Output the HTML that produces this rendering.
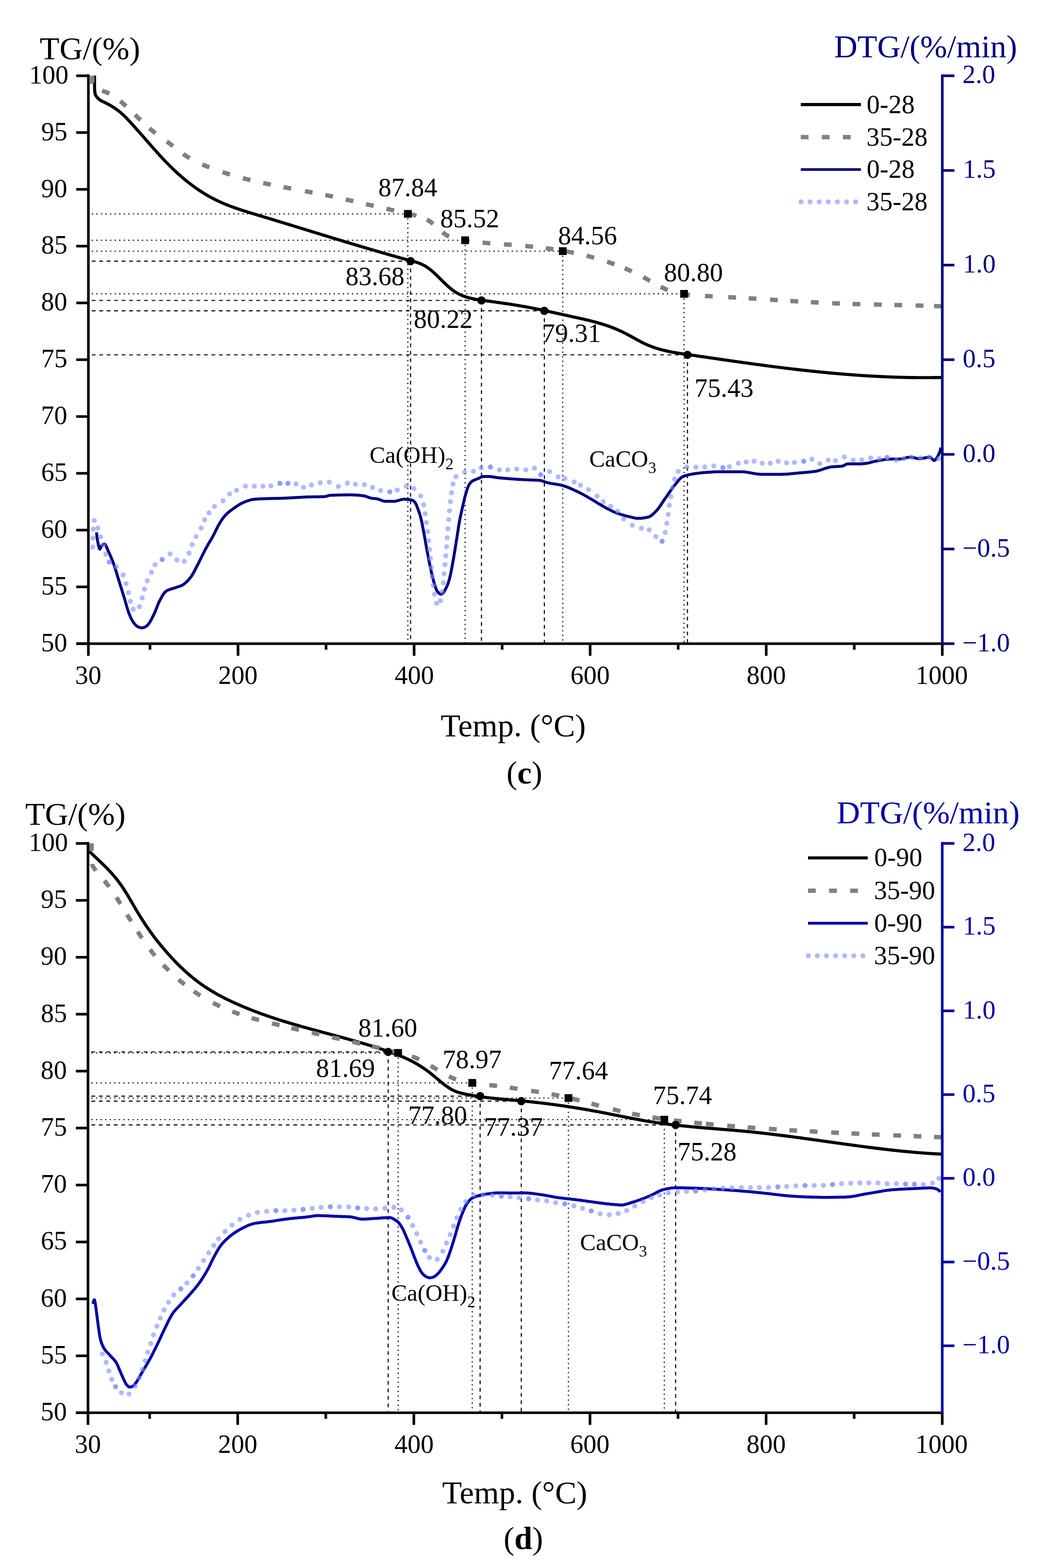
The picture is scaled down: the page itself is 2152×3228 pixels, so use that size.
<!DOCTYPE html>
<html><head><meta charset="utf-8"><title>TG/DTG</title>
<style>
html,body{margin:0;padding:0;background:#fff;}
svg{display:block;}
text{font-family:"Liberation Serif","Times New Roman",serif;}
</style></head><body>
<svg width="2152" height="3228" viewBox="0 0 2152 3228">
<rect width="2152" height="3228" fill="#fff"/>
<path d="M189,440.3 H839.9 M839.9,440.3 V1323.1" stroke="#000" stroke-width="2.2" fill="none" stroke-dasharray="2.6 6.8"/>
<path d="M189,494.6 H957.8 M957.8,494.6 V1323.1" stroke="#000" stroke-width="2.2" fill="none" stroke-dasharray="2.6 6.8"/>
<path d="M189,517 H1158.9 M1158.9,517 V1323.1" stroke="#000" stroke-width="2.2" fill="none" stroke-dasharray="2.6 6.8"/>
<path d="M189,604.9 H1408.7 M1408.7,604.9 V1323.1" stroke="#000" stroke-width="2.2" fill="none" stroke-dasharray="2.6 6.8"/>
<path d="M189,537.6 H845.5 M845.5,537.6 V1323.1" stroke="#000" stroke-width="2.2" fill="none" stroke-dasharray="7.8 7.6"/>
<path d="M189,618.5 H991.5 M991.5,618.5 V1323.1" stroke="#000" stroke-width="2.2" fill="none" stroke-dasharray="7.8 7.6"/>
<path d="M189,639.8 H1121 M1121,639.8 V1323.1" stroke="#000" stroke-width="2.2" fill="none" stroke-dasharray="7.8 7.6"/>
<path d="M189,730.5 H1415.7 M1415.7,730.5 V1323.1" stroke="#000" stroke-width="2.2" fill="none" stroke-dasharray="7.8 7.6"/>
<path d="M199.1,1095.9 199.1,1097.9 199.2,1100 199.4,1102 199.5,1104 199.8,1106 200,1108 200.4,1110 200.7,1111.9 201,1113.9 201.4,1115.8 201.8,1117.8 202.2,1119.7 202.6,1121.7 202.8,1122.4 203.1,1123.7 203.7,1126.2 204.3,1128.5 205.1,1130.2 205.6,1130.6 205.8,1130.5 206.6,1129.2 207.5,1127 208.5,1124.7 209,1124 209.7,1123.1 211.4,1121.5 213.1,1120.2 214.3,1119.8 214.5,1119.8 215.7,1120.3 216.9,1121.4 217.9,1122.9 219,1124.9 219.9,1127 220.9,1129.3 221.8,1131.6 222.6,1133.8 223.4,1135.4 223.5,1135.7 224.4,1137.4 225.2,1139.2 226.1,1141.1 226.9,1142.9 227.7,1144.7 228.5,1146.6 229.2,1148.4 230,1150.3 230.7,1152.1 231.5,1154 232.2,1155.9 232.9,1157.8 233.6,1159.6 234.2,1161.4 234.2,1161.5 234.9,1163.4 235.6,1165.3 236.2,1167.2 236.8,1169.1 237.4,1171 238,1172.9 238.6,1174.8 239.2,1176.7 239.8,1178.6 240.4,1180.5 241,1182.4 241.5,1184.3 242.1,1186.3 242.7,1188.2 243.3,1190.1 243.8,1192 244.4,1193.9 245,1195.8 245.1,1196.1 245.6,1197.7 246.2,1199.7 246.8,1201.6 247.4,1203.5 248,1205.4 248.6,1207.3 249.2,1209.2 249.8,1211.1 250.4,1213 251,1214.9 251.6,1216.8 252.1,1218.7 252.7,1220.6 253.3,1222.6 253.9,1224.5 254.5,1226.4 255.1,1228.3 255.7,1230.2 255.9,1230.8 256.3,1232.1 256.9,1234 257.4,1235.9 258,1237.9 258.5,1239.8 259.1,1241.7 259.6,1243.7 260.2,1245.6 260.7,1247.6 261.3,1249.5 261.8,1251.4 262.4,1253.3 263,1255.2 263.6,1257.1 264.3,1259 264.9,1260.9 265.6,1262.7 266.3,1264.6 266.7,1265.5 267.1,1266.4 267.9,1268.2 268.7,1270.1 269.5,1272 270.4,1273.8 271.4,1275.6 272.4,1277.4 273.4,1279.2 274.5,1280.8 275.6,1282.5 276.8,1284 277.6,1285 278,1285.5 279.4,1286.9 281,1288.3 282.6,1289.5 284.1,1290.3 284.3,1290.4 286.1,1291.2 288.1,1291.9 290,1292.4 291.7,1292.6 292,1292.6 294,1292.4 296,1291.9 297.9,1291.2 299.3,1290.6 299.7,1290.4 301.3,1289.3 302.9,1287.9 303.6,1287.2 304.2,1286.5 305.4,1285.1 306.6,1283.5 307.8,1281.9 308.8,1280.2 309.9,1278.5 310.9,1276.7 311.9,1274.9 312.8,1273.1 313.7,1271.2 314.6,1269.4 315.5,1267.6 316.4,1265.8 316.6,1265.5 317.3,1264 318.2,1262.2 319,1260.4 319.7,1258.6 320.5,1256.7 321.2,1254.8 322,1252.9 322.7,1251.1 323.4,1249.2 324.1,1247.3 324.9,1245.4 325.6,1243.6 326.4,1241.7 327.2,1239.9 328.1,1238.1 329,1236.4 329.6,1235.2 329.9,1234.6 330.9,1232.9 331.9,1231 332.9,1229.2 333.9,1227.3 335,1225.5 336.2,1223.7 337.4,1222 338.6,1220.5 339.9,1219 341.2,1217.8 342.6,1216.7 342.6,1216.7 344.1,1215.8 345.8,1215 347.6,1214.2 349.5,1213.5 351.5,1212.9 353.5,1212.3 355.5,1211.7 357.5,1211 359.5,1210.4 360,1210.2 361.4,1209.7 363.3,1209.1 365.3,1208.5 367.2,1207.9 369.1,1207.3 371,1206.6 372.9,1205.9 374.6,1205.1 375.2,1204.8 376.3,1204.2 377.9,1203.2 379.5,1202 381.1,1200.8 382.6,1199.4 384.1,1198 385.6,1196.6 387,1195.1 388.4,1193.5 389.7,1192 391,1190.4 392.2,1188.9 392.5,1188.5 393.4,1187.3 394.5,1185.7 395.6,1184.1 396.6,1182.4 397.7,1180.7 398.6,1179 399.6,1177.2 400.6,1175.4 401.5,1173.6 402.4,1171.8 403.3,1170 404.2,1168.2 405.1,1166.4 406,1164.6 407,1162.8 407.7,1161.4 407.9,1161 408.8,1159.3 409.7,1157.5 410.6,1155.7 411.5,1153.9 412.4,1152.1 413.3,1150.3 414.2,1148.5 415.1,1146.7 415.9,1144.9 416.8,1143.1 417.7,1141.3 418.6,1139.5 419.5,1137.8 420.4,1136 421.3,1134.2 422.2,1132.4 422.9,1131.1 423.1,1130.7 424.1,1128.9 425.1,1127.2 426,1125.4 427,1123.7 428,1121.9 429,1120.2 430,1118.5 431,1116.8 432,1115 433.1,1113.3 434.1,1111.6 435.1,1109.9 436.1,1108.1 437.1,1106.4 438,1104.6 439,1102.9 440,1101.1 440.2,1100.7 440.9,1099.4 441.8,1097.6 442.7,1095.8 443.6,1094 444.5,1092.2 445.3,1090.4 446.2,1088.6 447.1,1086.8 448,1085 448.9,1083.2 449.9,1081.5 450.8,1079.8 451,1079.5 451.9,1078 452.9,1076.3 453.9,1074.6 455,1072.9 456.1,1071.2 457.2,1069.5 458.4,1067.8 459.5,1066.2 460.8,1064.6 462,1063.1 463.3,1061.6 463.3,1061.6 464.6,1060.2 466,1058.8 467.4,1057.4 468.9,1056.1 470.4,1054.8 472,1053.5 473.6,1052.2 475.2,1051 476.8,1049.8 478.4,1048.6 480,1047.4 481.6,1046.3 481.7,1046.2 483.3,1045.1 484.9,1044 486.6,1042.8 488.3,1041.7 490,1040.6 491.7,1039.5 493.4,1038.4 495.2,1037.4 496.9,1036.5 498.7,1035.6 500.5,1034.7 502,1034.1 502.3,1034 504.1,1033.3 506,1032.5 507.8,1031.8 509.8,1031.1 511.7,1030.5 513.6,1029.9 515.6,1029.3 517.5,1028.8 519.5,1028.4 521.4,1028.1 522.4,1028 523.4,1027.9 525.3,1027.7 527.3,1027.5 529.3,1027.4 531.3,1027.3 533.3,1027.1 535.3,1027 537.3,1026.9 539.3,1026.8 541.3,1026.8 542.9,1026.7 543.3,1026.7 545.3,1026.6 547.3,1026.5 549.3,1026.5 551.3,1026.4 553.3,1026.4 555.3,1026.3 557.3,1026.3 559.3,1026.2 561.3,1026.2 563.3,1026.2 565.3,1026.1 567.3,1026.1 569.3,1026 571.3,1026 573.3,1026 575.3,1025.9 577.3,1025.8 579.3,1025.8 581.3,1025.7 582,1025.7 583.3,1025.7 585.3,1025.6 587.3,1025.5 589.3,1025.4 591.3,1025.3 593.3,1025.2 595.3,1025.1 597.3,1025 599.3,1024.9 601.3,1024.7 603.3,1024.6 605.3,1024.5 607.3,1024.4 607.6,1024.4 609.3,1024.3 611.3,1024.2 613.2,1024.1 615.2,1024 617.2,1023.9 619.2,1023.8 621.2,1023.6 623.2,1023.5 625.2,1023.4 627.2,1023.3 629.2,1023.2 631.2,1023.2 633.1,1023.1 633.2,1023.1 635.2,1023 637.2,1023 639.2,1022.9 641.2,1022.9 643.2,1022.9 645.2,1022.8 647.3,1022.8 649.3,1022.8 651.3,1022.8 653.3,1022.7 655.3,1022.7 657.3,1022.7 659.3,1022.6 661.3,1022.6 663.2,1022.5 665.2,1022.5 667.2,1022.4 668.8,1022.3 669.2,1022.3 671.1,1021.9 673.1,1021.3 675,1020.7 676.9,1020.1 678.9,1019.8 679,1019.8 680.8,1019.7 682.8,1019.6 684.8,1019.5 686.8,1019.4 688.8,1019.4 690.8,1019.3 692.7,1019.2 694.7,1019.2 696.8,1019.1 698.8,1019.1 700.8,1019 702.8,1019 704.8,1018.9 706.8,1018.9 708.8,1018.9 710.8,1018.9 712.8,1018.8 714.8,1018.8 716.8,1018.8 718.8,1018.8 720.8,1018.8 722.3,1018.8 722.8,1018.8 724.8,1018.8 726.8,1018.9 728.8,1018.9 730.8,1019 732.8,1019.2 734.9,1019.3 736.9,1019.5 738.9,1019.6 740.8,1019.8 742.8,1020 744.8,1020.2 746.8,1020.5 747.9,1020.6 748.7,1020.7 750.7,1021.1 752.6,1021.6 754.5,1022.2 756.4,1022.9 758.3,1023.6 760.2,1024.3 762.1,1024.9 764.1,1025.4 765.7,1025.7 766,1025.7 768,1026 770,1026.2 772,1026.4 774,1026.6 775.9,1026.9 775.9,1026.9 777.9,1027.3 779.8,1027.9 781.7,1028.6 783.6,1029.3 785.5,1030.1 787.5,1030.8 789.4,1031.4 791.3,1031.8 793.2,1032 793.8,1032 795.2,1032 797.2,1032 799.2,1032 801.2,1032 803.2,1032 805.2,1032 807.2,1032 809.2,1032 811.2,1032 811.6,1032 813.2,1031.9 815.2,1031.7 817.1,1031.2 819.1,1030.7 821,1030.1 823,1029.5 824.9,1028.9 826.8,1028.4 828.8,1028 830.8,1027.7 832,1027.7 832.7,1027.7 834.7,1027.8 836.8,1027.9 838.8,1028 840.8,1028.2 842.8,1028.4 844.8,1028.7 846.6,1029 846.7,1029 848.6,1029.6 850.5,1030.6 852.2,1031.7 853.3,1032.7 853.6,1033 854.7,1034.4 855.7,1036 856.6,1037.8 857.5,1039.7 858.3,1041.7 859,1043.7 859.8,1045.6 859.9,1045.9 860.5,1047.4 861.2,1049.3 861.9,1051.2 862.6,1053 863.3,1054.9 863.9,1056.8 864.5,1058.8 865.1,1060.7 865.6,1062.6 866.2,1064.5 866.5,1065.8 866.7,1066.5 867.1,1068.4 867.6,1070.3 868,1072.3 868.5,1074.2 868.9,1076.2 869.3,1078.1 869.7,1080.1 870.1,1082.1 870.4,1084 870.8,1086 871.2,1088 871.5,1089.9 871.9,1091.9 872.2,1093.9 872.6,1095.8 873,1097.8 873.2,1099 873.3,1099.8 873.7,1101.7 874.1,1103.7 874.4,1105.7 874.8,1107.6 875.2,1109.6 875.5,1111.6 875.9,1113.5 876.2,1115.5 876.5,1117.5 876.9,1119.4 877.2,1121.4 877.6,1123.4 877.9,1125.3 878.3,1127.3 878.6,1129.3 879,1131.2 879.4,1133.2 879.7,1135.2 879.8,1135.5 880.1,1137.1 880.5,1139.1 880.9,1141.1 881.2,1143 881.6,1145 882,1147 882.4,1148.9 882.8,1150.9 883.1,1152.8 883.5,1154.8 883.9,1156.8 884.3,1158.7 884.7,1160.7 885.1,1162.6 885.5,1164.6 886,1166.5 886.4,1168.5 886.4,1168.6 886.8,1170.5 887.2,1172.4 887.7,1174.4 888.1,1176.3 888.5,1178.3 888.9,1180.2 889.4,1182.2 889.8,1184.1 890.3,1186.1 890.8,1188 891.3,1190 891.8,1191.9 892.3,1193.8 892.8,1195.7 893.1,1196.8 893.3,1197.7 893.9,1199.6 894.4,1201.5 895,1203.5 895.6,1205.5 896.2,1207.4 896.8,1209.3 897.5,1211.2 898.3,1213 899.1,1214.8 899.7,1215.9 900,1216.5 901.1,1218.1 902.5,1219.7 903.6,1220.8 903.9,1221.1 905.6,1222.4 907.3,1223.3 907.7,1223.3 909.2,1223 911.1,1221.9 912,1221.2 912.6,1220.7 913.8,1219.2 914.9,1217.5 915.9,1215.6 916.3,1215 916.9,1213.9 917.8,1212.1 918.7,1210.4 919.6,1208.5 920.4,1206.7 921.2,1204.8 921.9,1203 922.7,1201.1 923.3,1199.2 924,1197.3 924.5,1195.4 924.6,1195.2 925.1,1193.5 925.6,1191.6 926.1,1189.7 926.6,1187.8 927,1185.8 927.5,1183.9 927.9,1181.9 928.3,1180 928.7,1178 929.1,1176 929.5,1174.1 929.9,1172.1 930.2,1170.1 930.6,1168.1 931,1166.2 931.3,1164.2 931.7,1162.2 932,1160.2 932.4,1158.3 932.7,1156.3 932.9,1155.4 933.1,1154.3 933.5,1152.4 933.8,1150.4 934.2,1148.4 934.5,1146.5 934.8,1144.5 935.2,1142.5 935.5,1140.5 935.8,1138.6 936.1,1136.6 936.5,1134.6 936.8,1132.6 937.1,1130.7 937.4,1128.7 937.7,1126.7 938,1124.8 938.3,1122.8 938.7,1120.8 939,1118.8 939.3,1116.9 939.5,1115.6 939.6,1114.9 939.9,1112.9 940.2,1110.9 940.6,1109 940.9,1107 941.2,1105 941.5,1103 941.8,1101.1 942.1,1099.1 942.4,1097.1 942.7,1095.1 943,1093.1 943.3,1091.2 943.6,1089.2 943.9,1087.2 944.2,1085.2 944.5,1083.3 944.8,1081.3 945.2,1079.3 945.5,1077.4 945.9,1075.4 946.1,1074.1 946.2,1073.4 946.6,1071.5 947,1069.5 947.4,1067.5 947.7,1065.6 948.1,1063.6 948.6,1061.7 949,1059.7 949.4,1057.8 949.8,1055.8 950.2,1053.9 950.7,1051.9 951.1,1050 951.6,1048 952,1046.1 952.5,1044.1 952.8,1042.6 952.9,1042.2 953.3,1040.2 953.8,1038.3 954.2,1036.3 954.7,1034.4 955.1,1032.4 955.6,1030.5 956.1,1028.5 956.6,1026.6 957,1024.6 957.6,1022.7 958.1,1020.8 958.6,1018.8 959.2,1016.9 959.4,1016.1 959.7,1015 960.3,1013.1 960.9,1011.1 961.4,1009.2 962.1,1007.2 962.7,1005.3 963.4,1003.4 964.2,1001.5 965,999.8 965.8,998.1 966,997.8 966.9,996.4 968.1,994.8 969.4,993.2 970.9,991.8 972.4,990.6 972.7,990.4 974,989.6 975.8,988.7 977.6,987.9 979.6,987.2 981.5,986.5 983.4,985.8 984.3,985.4 985.3,985 987.1,984.1 988.9,983.1 990.8,982.2 992.6,981.5 994.5,981 995.9,980.9 996.5,980.9 998.4,980.9 1000.4,980.9 1002.5,980.9 1004.5,980.9 1005.8,980.9 1006.5,980.9 1008.5,981 1010.4,981.2 1012.4,981.4 1014.4,981.7 1016.4,982 1018.4,982.3 1020.3,982.7 1022.3,983 1024.3,983.3 1026.3,983.6 1027.4,983.7 1028.3,983.8 1030.3,984 1032.3,984.2 1034.2,984.3 1036.2,984.5 1038.2,984.7 1040.2,984.8 1042.2,985 1044.2,985.2 1046.2,985.3 1047.3,985.4 1048.2,985.5 1050.2,985.6 1052.2,985.8 1054.2,985.9 1056.2,986.1 1058.2,986.2 1060.2,986.3 1062.1,986.5 1064.1,986.6 1066.1,986.7 1068.1,986.9 1070.1,987 1072.1,987.1 1072.1,987.1 1074.1,987.2 1076.1,987.3 1078.1,987.4 1080.1,987.5 1082.1,987.6 1084.1,987.7 1086.1,987.8 1088.1,987.9 1090,988 1090.1,988 1092.1,988.1 1094.1,988.2 1096.1,988.2 1098.1,988.3 1100.1,988.3 1102.1,988.4 1104.1,988.5 1106.1,988.6 1108.1,988.7 1110.1,988.8 1110.4,988.8 1112,989 1114,989.4 1115.9,989.9 1117.8,990.5 1119.7,991.1 1121.6,991.8 1123.5,992.5 1125.4,993.1 1127.4,993.7 1128.3,993.9 1129.3,994.1 1131.3,994.5 1133.2,994.9 1135.2,995.2 1137.2,995.6 1139.2,995.9 1141.2,996.2 1143.1,996.5 1145.1,996.8 1147.1,997.1 1149.1,997.5 1151,997.8 1153,998.2 1154.9,998.7 1156.3,999 1156.8,999.1 1158.7,999.6 1160.6,1000.2 1162.5,1000.8 1164.4,1001.4 1166.3,1002.1 1168.2,1002.8 1170,1003.5 1171.9,1004.3 1173.8,1005.1 1175.6,1005.9 1177.4,1006.7 1179.3,1007.5 1181.1,1008.4 1182.9,1009.2 1184.8,1010.1 1186.6,1010.9 1188.4,1011.8 1190.2,1012.6 1192,1013.5 1192,1013.5 1193.8,1014.4 1195.6,1015.3 1197.3,1016.2 1199.1,1017.1 1200.9,1018 1202.6,1019 1204.4,1020 1206.1,1021 1207.9,1022 1209.6,1023 1211.3,1024 1213.1,1025 1214.8,1026 1216.5,1027 1217.6,1027.6 1218.3,1028 1220,1029 1221.7,1030 1223.4,1031.1 1225.1,1032.1 1226.8,1033.1 1228.5,1034.2 1230.2,1035.3 1231.9,1036.3 1233.6,1037.4 1235.3,1038.4 1237,1039.4 1238.8,1040.4 1240.5,1041.4 1242.2,1042.4 1243.1,1042.9 1244,1043.4 1245.7,1044.3 1247.5,1045.3 1249.2,1046.3 1251,1047.2 1252.8,1048.2 1254.6,1049.1 1256.3,1050 1258.1,1051 1259.9,1051.8 1261.7,1052.7 1263.5,1053.5 1265.4,1054.3 1267.2,1055.1 1268.6,1055.6 1269.1,1055.8 1270.9,1056.5 1272.8,1057.1 1274.7,1057.8 1276.6,1058.4 1278.5,1059 1280.4,1059.6 1282.3,1060.2 1284.3,1060.8 1286.2,1061.3 1288.1,1061.8 1290.1,1062.3 1292,1062.8 1293.9,1063.3 1294.1,1063.3 1295.9,1063.7 1297.8,1064.2 1299.8,1064.7 1301.8,1065.2 1303.7,1065.7 1305.7,1066.1 1307.7,1066.5 1309.6,1066.8 1311.6,1067 1313.6,1067.1 1314.5,1067.1 1315.6,1067.1 1317.6,1067 1319.6,1066.9 1321.7,1066.7 1323.7,1066.5 1325.8,1066.2 1327.8,1065.9 1329.8,1065.6 1331.7,1065.2 1333.5,1064.8 1334.9,1064.5 1335.3,1064.4 1337.1,1063.8 1338.8,1062.9 1340.5,1061.8 1342.2,1060.6 1343.8,1059.3 1345.4,1057.8 1346.9,1056.4 1348.4,1054.9 1349.8,1053.5 1350.2,1053.1 1351.2,1052.1 1352.5,1050.7 1353.8,1049.2 1355,1047.7 1356.2,1046.2 1357.4,1044.6 1358.6,1042.9 1359.7,1041.3 1360.9,1039.6 1362,1037.9 1363.1,1036.2 1364.2,1034.5 1365.3,1032.8 1366.4,1031.1 1367.5,1029.4 1368.7,1027.7 1369.8,1026.1 1370.6,1025 1371,1024.5 1372.2,1022.8 1373.3,1021.2 1374.5,1019.6 1375.6,1017.9 1376.7,1016.3 1377.9,1014.6 1379,1013 1380.2,1011.3 1381.3,1009.7 1382.5,1008 1383.6,1006.4 1384.8,1004.8 1386,1003.2 1387.2,1001.6 1388.4,1000 1389.7,998.5 1390.9,997 1391,996.9 1392.2,995.4 1393.5,993.8 1394.8,992.1 1396.1,990.5 1397.4,988.8 1398.8,987.2 1400.2,985.7 1401.6,984.3 1403.1,983.1 1404.6,982 1406.2,981.1 1406.3,981.1 1407.9,980.4 1409.7,979.8 1411.5,979.1 1413.4,978.6 1415.4,978.1 1417.4,977.6 1419.5,977.1 1421.5,976.7 1423.5,976.4 1425.5,976 1426.7,975.8 1427.5,975.7 1429.5,975.3 1431.4,975 1433.4,974.8 1435.4,974.5 1437.4,974.2 1439.4,974 1441.4,973.7 1443.3,973.5 1445.3,973.3 1447.3,973.1 1449.3,972.9 1451.3,972.8 1452.2,972.7 1453.3,972.6 1455.3,972.5 1457.3,972.3 1459.3,972.2 1461.3,972 1463.3,971.9 1465.3,971.7 1467.3,971.6 1469.3,971.5 1471.3,971.4 1473.3,971.3 1475.3,971.3 1477.3,971.2 1479.3,971.2 1480,971.2 1481.2,971.2 1483.2,971.2 1485.2,971.2 1487.2,971.2 1489.2,971.2 1491.2,971.2 1493.2,971.2 1495.2,971.2 1497.2,971.2 1499.3,971.2 1501.3,971.2 1503.3,971.2 1505.3,971.2 1507.3,971.2 1509.3,971.2 1511.3,971.2 1513.3,971.2 1515.3,971.2 1517.2,971.2 1519.2,971.2 1521.2,971.2 1523.2,971.2 1525.2,971.2 1525.9,971.2 1527.2,971.2 1529.2,971.3 1531.2,971.4 1533.2,971.6 1535.2,971.8 1537.1,972.1 1539.1,972.4 1541.1,972.7 1543.1,973 1545.1,973.4 1547.1,973.7 1549,974.1 1551,974.5 1553,974.8 1555,975.1 1557,975.4 1558.9,975.7 1560.9,975.9 1562.9,976.1 1564.9,976.3 1566.9,976.4 1568.8,976.4 1568.9,976.4 1570.9,976.4 1572.9,976.4 1574.9,976.4 1576.9,976.4 1578.9,976.4 1580.9,976.4 1582.9,976.4 1584.9,976.4 1586.9,976.4 1588.9,976.4 1590.9,976.4 1592.9,976.4 1594.9,976.4 1596.9,976.4 1598.9,976.4 1600.9,976.4 1602.9,976.4 1604.9,976.4 1606.9,976.4 1608.6,976.4 1608.9,976.4 1610.9,976.4 1612.8,976.3 1614.8,976.3 1616.8,976.2 1618.8,976.1 1620.8,976 1622.8,975.8 1624.8,975.7 1626.8,975.5 1628.8,975.3 1630.8,975.1 1632.8,974.9 1634.8,974.7 1636.8,974.5 1638.8,974.3 1640.8,974.1 1642.7,973.9 1644.7,973.7 1646.7,973.5 1648.4,973.4 1648.7,973.4 1650.7,973.2 1652.7,973 1654.7,972.9 1656.7,972.7 1658.7,972.5 1660.7,972.4 1662.7,972.2 1664.7,972 1666.7,971.8 1668.7,971.6 1670.7,971.4 1672.6,971.1 1674.6,970.9 1676.6,970.6 1678.5,970.4 1679,970.3 1680.5,970.1 1682.5,969.7 1684.4,969.2 1686.3,968.7 1688.2,968.1 1690.2,967.5 1692.1,966.8 1694,966.2 1695.9,965.5 1697.8,964.8 1699.7,964.2 1701.6,963.6 1703.6,963 1705.5,962.5 1707.4,962 1709.4,961.6 1711.3,961.3 1712.7,961.1 1713.3,961 1715.3,960.9 1717.3,960.7 1719.3,960.6 1721.3,960.5 1723.3,960.4 1725.3,960.3 1727.3,960.2 1729.3,960.1 1731.3,959.9 1733.2,959.7 1734.1,959.6 1735.2,959.4 1737.1,958.7 1738.9,957.8 1740.7,956.8 1742.6,955.9 1744.5,955.2 1746.3,955 1746.4,955 1748.3,955 1750.3,955 1752.2,955 1754.2,955 1756.2,955 1758.3,955 1760.3,955 1762.3,955 1764.3,955 1766.3,955 1768.4,955 1770.4,955 1770.8,955 1772.4,955 1774.3,954.9 1776.3,954.7 1778.3,954.5 1780.3,954.3 1782.3,954 1784.3,953.8 1786.1,953.5 1786.3,953.5 1788.2,953.1 1790.2,952.7 1792.1,952.2 1794,951.7 1796,951.1 1797.9,950.6 1799.9,950.1 1801.4,949.8 1801.8,949.7 1803.8,949.3 1805.7,949 1807.7,948.6 1809.7,948.2 1811.6,947.8 1813.6,947.4 1815.6,947.1 1817.6,946.7 1819.6,946.4 1821.5,946.1 1823.5,945.8 1825.5,945.6 1827.5,945.4 1829.5,945.3 1831.5,945.2 1832,945.2 1833.5,945.2 1835.4,945.1 1837.4,945.1 1839.4,945.1 1841.5,945.1 1843.5,945 1845.5,945 1847.5,945 1849.5,945 1851.5,944.9 1853.4,944.9 1853.5,944.9 1855.4,944.8 1857.4,944.5 1859.4,944.1 1861.3,943.7 1863.3,943.2 1865.3,942.7 1867.2,942.2 1869.2,941.8 1871.2,941.5 1873.1,941.3 1874.9,941.2 1875.1,941.2 1877.1,941.3 1879,941.6 1881,942 1883,942.5 1885,943 1886.9,943.4 1888.9,943.9 1890.9,944.2 1892.8,944.3 1893.3,944.3 1894.8,944.3 1896.9,944.1 1898.9,943.8 1900.9,943.4 1903,943 1905,942.6 1907,942.2 1909,941.8 1910.9,941.5 1912.8,941.3 1914.6,941.2 1914.7,941.2 1916.3,941.7 1918,943 1919.7,944.8 1921.2,946.4 1922.8,947.7 1923.9,948 1924.2,948 1925.7,947.2 1927.1,945.6 1928.5,943.7 1929.7,941.8 1930,941.2 1930.6,940.1 1931.6,938.4 1932.5,936.7 1933.4,935 1934.2,933.2 1935,931.3 1935.7,929.4 1936.3,927.5 1936.8,925.5 1937.3,923.4 1937.6,921.3" stroke="#000080" stroke-width="6" fill="none" stroke-linejoin="round"/>
<g fill="#7b8cff" fill-opacity="0.6"><circle cx="190.8" cy="1126.3" r="5.2"/><circle cx="191.3" cy="1107.9" r="5.2"/><circle cx="191.9" cy="1089.4" r="5.2"/><circle cx="194.1" cy="1071.4" r="5.2"/><circle cx="201.3" cy="1087.3" r="5.2"/><circle cx="207.1" cy="1105" r="5.2"/><circle cx="213" cy="1122.4" r="5.2"/><circle cx="217.9" cy="1140.8" r="5.2"/><circle cx="225.1" cy="1157.1" r="5.2"/><circle cx="239.6" cy="1166.8" r="5.2"/><circle cx="253.7" cy="1183.5" r="5.2"/><circle cx="259.8" cy="1201.5" r="5.2"/><circle cx="264.6" cy="1220" r="5.2"/><circle cx="268.5" cy="1237.8" r="5.2"/><circle cx="274.3" cy="1254.2" r="5.2"/><circle cx="287.3" cy="1248.8" r="5.2"/><circle cx="292.8" cy="1230.8" r="5.2"/><circle cx="297.5" cy="1212.8" r="5.2"/><circle cx="303.2" cy="1195.7" r="5.2"/><circle cx="311.8" cy="1178.3" r="5.2"/><circle cx="319.2" cy="1162.5" r="5.2"/><circle cx="334" cy="1151.7" r="5.2"/><circle cx="350.2" cy="1140.2" r="5.2"/><circle cx="364.3" cy="1152.8" r="5.2"/><circle cx="379.5" cy="1155.4" r="5.2"/><circle cx="389.2" cy="1138.7" r="5.2"/><circle cx="395.8" cy="1121.3" r="5.2"/><circle cx="403.8" cy="1104.6" r="5.2"/><circle cx="414.2" cy="1087.3" r="5.2"/><circle cx="421.3" cy="1070" r="5.2"/><circle cx="430.3" cy="1055.7" r="5.2"/><circle cx="441.8" cy="1042.4" r="5.2"/><circle cx="459.4" cy="1031" r="5.2"/><circle cx="472.8" cy="1016.9" r="5.2"/><circle cx="487.2" cy="1009.3" r="5.2"/><circle cx="505.4" cy="1000.9" r="5.2"/><circle cx="523.8" cy="1000.7" r="5.2"/><circle cx="541.5" cy="1000.9" r="5.2"/><circle cx="557.8" cy="1000.3" r="5.2"/><circle cx="576.4" cy="995" r="5.2"/><circle cx="593" cy="995" r="5.2"/><circle cx="609.6" cy="996.3" r="5.2"/><circle cx="624.9" cy="1003.2" r="5.2"/><circle cx="641.2" cy="998.4" r="5.2"/><circle cx="659.3" cy="993.8" r="5.2"/><circle cx="678.2" cy="992.5" r="5.2"/><circle cx="696.8" cy="1001.4" r="5.2"/><circle cx="715.5" cy="994.5" r="5.2"/><circle cx="732" cy="996.8" r="5.2"/><circle cx="750.4" cy="997.6" r="5.2"/><circle cx="767" cy="1003.5" r="5.2"/><circle cx="783.6" cy="1009.8" r="5.2"/><circle cx="802.7" cy="1012.4" r="5.2"/><circle cx="818" cy="1008.6" r="5.2"/><circle cx="836.6" cy="1000.9" r="5.2"/><circle cx="852.4" cy="1005.8" r="5.2"/><circle cx="866.2" cy="1021" r="5.2"/><circle cx="872.3" cy="1039.3" r="5.2"/><circle cx="875.7" cy="1057.5" r="5.2"/><circle cx="878.1" cy="1075.8" r="5.2"/><circle cx="880.6" cy="1094.3" r="5.2"/><circle cx="882.8" cy="1113.1" r="5.2"/><circle cx="884.4" cy="1131.3" r="5.2"/><circle cx="886.4" cy="1149.6" r="5.2"/><circle cx="888.1" cy="1168.3" r="5.2"/><circle cx="890.1" cy="1186.9" r="5.2"/><circle cx="892.2" cy="1205.1" r="5.2"/><circle cx="894.7" cy="1223.3" r="5.2"/><circle cx="898.9" cy="1241.9" r="5.2"/><circle cx="907.2" cy="1236.6" r="5.2"/><circle cx="910.5" cy="1218" r="5.2"/><circle cx="913" cy="1199.8" r="5.2"/><circle cx="914.6" cy="1181.1" r="5.2"/><circle cx="916.3" cy="1162.3" r="5.2"/><circle cx="917.9" cy="1144.1" r="5.2"/><circle cx="919.6" cy="1125.5" r="5.2"/><circle cx="920.9" cy="1106.9" r="5.2"/><circle cx="922.4" cy="1088.5" r="5.2"/><circle cx="924.1" cy="1069.6" r="5.2"/><circle cx="925.7" cy="1051.4" r="5.2"/><circle cx="927.4" cy="1032.7" r="5.2"/><circle cx="929.9" cy="1014.4" r="5.2"/><circle cx="932.9" cy="996.5" r="5.2"/><circle cx="939" cy="981.2" r="5.2"/><circle cx="956.9" cy="972.1" r="5.2"/><circle cx="975.1" cy="970.1" r="5.2"/><circle cx="990.9" cy="963.3" r="5.2"/><circle cx="1010" cy="961.4" r="5.2"/><circle cx="1028.5" cy="967.2" r="5.2"/><circle cx="1045.6" cy="967.2" r="5.2"/><circle cx="1064.2" cy="965.5" r="5.2"/><circle cx="1082.9" cy="967.2" r="5.2"/><circle cx="1100.7" cy="963.8" r="5.2"/><circle cx="1113.5" cy="977" r="5.2"/><circle cx="1132.1" cy="970.9" r="5.2"/><circle cx="1149.4" cy="981.6" r="5.2"/><circle cx="1163.5" cy="984.9" r="5.2"/><circle cx="1182.3" cy="992.3" r="5.2"/><circle cx="1195.4" cy="998.7" r="5.2"/><circle cx="1211.9" cy="1007.7" r="5.2"/><circle cx="1229.5" cy="1021.2" r="5.2"/><circle cx="1242.3" cy="1032.7" r="5.2"/><circle cx="1257.6" cy="1042.3" r="5.2"/><circle cx="1271.9" cy="1052.3" r="5.2"/><circle cx="1284.4" cy="1068.4" r="5.2"/><circle cx="1302.2" cy="1081.1" r="5.2"/><circle cx="1320.9" cy="1087.5" r="5.2"/><circle cx="1336.9" cy="1090.8" r="5.2"/><circle cx="1350.7" cy="1104.6" r="5.2"/><circle cx="1363.5" cy="1114.3" r="5.2"/><circle cx="1370.1" cy="1095.9" r="5.2"/><circle cx="1373.2" cy="1077.3" r="5.2"/><circle cx="1376.2" cy="1058.9" r="5.2"/><circle cx="1378.3" cy="1040.3" r="5.2"/><circle cx="1381.6" cy="1022.4" r="5.2"/><circle cx="1384.6" cy="1004.1" r="5.2"/><circle cx="1389.2" cy="986.2" r="5.2"/><circle cx="1396.6" cy="970.2" r="5.2"/><circle cx="1414.5" cy="961.2" r="5.2"/><circle cx="1433.1" cy="961.7" r="5.2"/><circle cx="1451.5" cy="961.2" r="5.2"/><circle cx="1470.1" cy="959.2" r="5.2"/><circle cx="1488.6" cy="962.7" r="5.2"/><circle cx="1502" cy="960.5" r="5.2"/><circle cx="1520.4" cy="953.5" r="5.2"/><circle cx="1536.6" cy="951" r="5.2"/><circle cx="1552.9" cy="949.5" r="5.2"/><circle cx="1569.7" cy="953.5" r="5.2"/><circle cx="1586.2" cy="953.5" r="5.2"/><circle cx="1602.4" cy="949.5" r="5.2"/><circle cx="1619.9" cy="952.9" r="5.2"/><circle cx="1636.1" cy="951.9" r="5.2"/><circle cx="1655.1" cy="949.5" r="5.2"/><circle cx="1671.9" cy="945.2" r="5.2"/><circle cx="1688.2" cy="954.4" r="5.2"/><circle cx="1705.6" cy="947.3" r="5.2"/><circle cx="1720.6" cy="948.3" r="5.2"/><circle cx="1738.7" cy="940.6" r="5.2"/><circle cx="1757" cy="947.3" r="5.2"/><circle cx="1774.8" cy="946.4" r="5.2"/><circle cx="1793.2" cy="942.8" r="5.2"/><circle cx="1810.6" cy="944.3" r="5.2"/><circle cx="1826.8" cy="941.8" r="5.2"/><circle cx="1845.8" cy="947.3" r="5.2"/><circle cx="1861.1" cy="944.3" r="5.2"/><circle cx="1877.3" cy="941.2" r="5.2"/><circle cx="1895.7" cy="942.8" r="5.2"/><circle cx="1914.1" cy="941.2" r="5.2"/><circle cx="1933" cy="944.3" r="5.2"/><circle cx="225.1" cy="1157.1" r="5.2"/><circle cx="334" cy="1151.7" r="5.2"/><circle cx="576.4" cy="995" r="5.2"/><circle cx="593" cy="995" r="5.2"/><circle cx="802.7" cy="1012.4" r="5.2"/><circle cx="1010" cy="961.4" r="5.2"/><circle cx="1113.5" cy="977" r="5.2"/><circle cx="1363.5" cy="1114.3" r="5.2"/><circle cx="1488.6" cy="962.7" r="5.2"/><circle cx="1655.1" cy="949.5" r="5.2"/><circle cx="1826.8" cy="941.8" r="5.2"/></g>
<path d="M194.6,155.4 194.6,157.4 194.6,159.3 194.6,161.3 194.6,163.3 194.6,165.2 194.6,167.2 194.6,169.1 194.7,171.1 194.7,173.1 194.7,175 194.7,177 194.7,178.9 194.8,180.9 194.8,182.8 194.8,183 194.9,184.8 195,186.8 195.2,188.8 195.5,190.7 195.9,192.7 196.3,194.5 196.3,194.5 197,196.2 198,197.9 199.3,199.5 200.6,201 201,201.5 201.9,202.4 203.3,203.8 204.8,205 206.4,206.2 208.1,207.3 210.1,208.2 212.1,209.2 214.1,210.1 216.1,211.1 218.1,212.1 220.1,213.1 222.1,214.2 224.1,215.2 226.1,216.3 228.1,217.5 230.1,218.7 232.1,219.9 234.1,221.2 236.1,222.5 238.1,223.9 240.1,225.3 242.1,226.8 244.1,228.3 246.1,229.9 248.1,231.5 250.1,233.3 252.1,235.1 254.1,236.9 256.1,238.8 258.1,240.8 260.1,242.8 262.1,244.9 264.1,247 266.1,249.1 268.1,251.3 270.1,253.5 272.1,255.7 274.1,257.9 276.1,260.1 278.1,262.3 280.1,264.6 282.1,266.8 284.1,269.1 286.1,271.4 288.1,273.6 290.1,275.9 292.1,278.2 294.1,280.5 296.1,282.7 298.1,285 300.1,287.3 302.1,289.6 304.1,291.9 306.1,294.2 308.1,296.4 310.1,298.7 312.1,301 314.1,303.2 316.1,305.5 318.1,307.7 320.1,310 322.1,312.2 324.1,314.4 326.1,316.6 328.1,318.8 330.1,321 332.1,323.2 334.1,325.3 336.1,327.4 338.1,329.6 340.1,331.7 342.1,333.7 344.1,335.8 346.1,337.8 348.1,339.9 350.1,341.9 352.1,343.8 354.1,345.8 356.1,347.7 358.1,349.6 360.1,351.5 362.1,353.4 364.1,355.2 366.1,357.1 368.1,358.9 370.1,360.6 372.1,362.4 374.1,364.1 376.1,365.8 378.1,367.5 380.1,369.2 382.1,370.9 384.1,372.5 386.1,374.1 388.1,375.7 390.1,377.2 392.1,378.8 394.1,380.3 396.1,381.8 398.1,383.3 400.1,384.7 402.1,386.2 404.1,387.6 406.1,389 408.1,390.3 410.1,391.7 412.1,393 414.1,394.3 416.1,395.6 418.1,396.9 420.1,398.1 422.1,399.3 424.1,400.5 426.1,401.7 428.1,402.9 430.1,404 432.1,405.1 434.1,406.2 436.1,407.3 438.1,408.3 440.1,409.4 442.1,410.4 444.1,411.4 446.1,412.4 448.1,413.3 450.1,414.3 452.1,415.2 454.1,416.1 456.1,417 458.1,417.9 460.1,418.7 462.1,419.6 464.1,420.4 466.1,421.2 468.1,422 470.1,422.8 472.1,423.6 474.1,424.4 476.1,425.1 478.1,425.8 480.1,426.6 482.1,427.3 484.1,428 486.1,428.7 488.1,429.4 490.1,430.1 492.1,430.8 494.1,431.4 496.1,432.1 498.1,432.7 500.1,433.4 502.1,434 504.1,434.7 506.1,435.3 508.1,435.9 510.1,436.5 512.1,437.1 514.1,437.8 516.1,438.4 518.1,439 520.1,439.6 522.1,440.2 524.1,440.8 526.1,441.4 528.1,442 530.1,442.6 532.1,443.2 534.1,443.8 536.1,444.4 538.1,445 540.1,445.6 542.1,446.2 544.1,446.8 546.1,447.4 548.1,448 550.1,448.6 552.1,449.2 554.1,449.8 556.1,450.4 558.1,451 560.1,451.6 562.1,452.2 564.1,452.8 566.1,453.4 568.1,454.1 570.1,454.7 572.1,455.3 574.1,455.9 576.1,456.5 578.1,457.1 580.1,457.7 582.1,458.3 584.1,458.9 586.1,459.5 588.1,460.2 590.1,460.8 592.1,461.4 594.1,462 596.1,462.6 598.1,463.2 600.1,463.8 602.1,464.4 604.1,465.1 606.1,465.7 608.1,466.3 610.1,466.9 612.1,467.5 614.1,468.1 616.1,468.7 618.1,469.3 620.1,470 622.1,470.6 624.1,471.2 626.1,471.8 628.1,472.4 630.1,473 632.1,473.6 634.1,474.3 636.1,474.9 638.1,475.5 640.1,476.1 642.1,476.7 644.1,477.3 646.1,477.9 648.1,478.6 650.1,479.2 652.1,479.8 654.1,480.4 656.1,481 658.1,481.6 660.1,482.2 662.1,482.8 664.1,483.5 666.1,484.1 668.1,484.7 670.1,485.3 672.1,485.9 674.1,486.5 676.1,487.1 678.1,487.7 680.1,488.3 682.1,489 684.1,489.6 686.1,490.2 688.1,490.8 690.1,491.4 692.1,492 694.1,492.6 696.1,493.2 698.1,493.8 700.1,494.4 702.1,495 704.1,495.6 706.1,496.2 708.1,496.9 710.1,497.5 712.1,498.1 714.1,498.7 716.1,499.3 718.1,499.9 720.1,500.5 722.1,501.1 724.1,501.7 726.1,502.3 728.1,502.9 730.1,503.5 732.1,504.1 734.1,504.7 736.1,505.3 738.1,505.9 740.1,506.5 742.1,507.1 744.1,507.6 746.1,508.2 748.1,508.8 750.1,509.4 752.1,510 754.1,510.6 756.1,511.2 758.1,511.8 760.1,512.4 762.1,513 764.1,513.6 766.1,514.1 768.1,514.7 770.1,515.3 772.1,515.9 774.1,516.5 776.1,517.1 778.1,517.6 780.1,518.2 782.1,518.8 784.1,519.4 786.1,520 788.1,520.5 790.1,521.1 792.1,521.7 794.1,522.3 796.1,522.8 798.1,523.4 800.1,524 802.1,524.6 804.1,525.1 806.1,525.7 808.1,526.3 810.1,526.8 812.1,527.4 814.1,528 816.1,528.5 818.1,529.1 820.1,529.6 822.1,530.2 824.1,530.8 826.1,531.3 828.1,531.9 830.1,532.4 832.1,533 834.1,533.5 836.1,534.1 838.1,534.6 840.1,535.2 842.1,535.7 844.1,536.2 846.1,536.8 848.1,537.3 850.1,537.8 852.1,538.3 854.1,538.9 856.1,539.5 858.1,540.1 860.1,540.8 862.1,541.4 864.1,542.2 866.1,543 868.1,543.9 870.1,544.8 872.1,545.8 874.1,546.9 876.1,548.1 878.1,549.3 880.1,550.7 882.1,552 884.1,553.5 886.1,555.1 888.1,556.7 890.1,558.4 892.1,560.1 894.1,561.9 896.1,563.8 898.1,565.6 900.1,567.6 902.1,569.5 904.1,571.5 906.1,573.5 908.1,575.5 910.1,577.4 912.1,579.4 914.1,581.4 916.1,583.3 918.1,585.2 920.1,587.1 922.1,589 924.1,590.7 926.1,592.5 928.1,594.1 930.1,595.7 932.1,597.3 934.1,598.7 936.1,600.1 938.1,601.4 940.1,602.6 942.1,603.7 944.1,604.8 946.1,605.9 948.1,606.8 950.1,607.7 952.1,608.6 954.1,609.4 956.1,610.1 958.1,610.8 960.1,611.5 962.1,612.1 964.1,612.7 966.1,613.2 968.1,613.7 970.1,614.2 972.1,614.6 974.1,615 976.1,615.4 978.1,615.8 980.1,616.1 982.1,616.5 984.1,616.8 986.1,617.1 988.1,617.4 990.1,617.7 992.1,618 994.1,618.2 996.1,618.5 998.1,618.8 1000.1,619.1 1002.1,619.4 1004.1,619.7 1006.1,619.9 1008.1,620.2 1010.1,620.5 1012.1,620.8 1014.1,621.1 1016.1,621.3 1018.1,621.6 1020.1,621.9 1022.1,622.2 1024.1,622.5 1026.1,622.7 1028.1,623 1030.1,623.3 1032.1,623.6 1034.1,623.9 1036.1,624.2 1038.1,624.5 1040.1,624.7 1042.1,625 1044.1,625.3 1046.1,625.6 1048.1,625.9 1050.1,626.2 1052.1,626.5 1054.1,626.8 1056.1,627.2 1058.1,627.5 1060.1,627.8 1062.1,628.1 1064.1,628.4 1066.1,628.8 1068.1,629.1 1070.1,629.4 1072.1,629.8 1074.1,630.1 1076.1,630.5 1078.1,630.8 1080.1,631.2 1082.1,631.5 1084.1,631.9 1086.1,632.3 1088.1,632.7 1090.1,633 1092.1,633.4 1094.1,633.8 1096.1,634.2 1098.1,634.6 1100.1,635 1102.1,635.4 1104.1,635.8 1106.1,636.2 1108.1,636.6 1110.1,637 1112.1,637.4 1114.1,637.8 1116.1,638.3 1118.1,638.7 1120.1,639.1 1122.1,639.5 1124.1,640 1126.1,640.4 1128.1,640.8 1130.1,641.3 1132.1,641.7 1134.1,642.1 1136.1,642.6 1138.1,643 1140.1,643.4 1142.1,643.9 1144.1,644.3 1146.1,644.8 1148.1,645.2 1150.1,645.6 1152.1,646.1 1154.1,646.5 1156.1,647 1158.1,647.4 1160.1,647.9 1162.1,648.3 1164.1,648.7 1166.1,649.2 1168.1,649.6 1170.1,650.1 1172.1,650.5 1174.1,650.9 1176.1,651.4 1178.1,651.8 1180.1,652.3 1182.1,652.7 1184.1,653.1 1186.1,653.6 1188.1,654 1190.1,654.4 1192.1,654.9 1194.1,655.3 1196.1,655.8 1198.1,656.2 1200.1,656.7 1202.1,657.1 1204.1,657.6 1206.1,658.1 1208.1,658.5 1210.1,659 1212.1,659.5 1214.1,660 1216.1,660.5 1218.1,661 1220.1,661.5 1222.1,662 1224.1,662.6 1226.1,663.1 1228.1,663.7 1230.1,664.2 1232.1,664.8 1234.1,665.4 1236.1,666 1238.1,666.6 1240.1,667.2 1242.1,667.8 1244.1,668.4 1246.1,669.1 1248.1,669.8 1250.1,670.4 1252.1,671.1 1254.1,671.8 1256.1,672.6 1258.1,673.3 1260.1,674 1262.1,674.8 1264.1,675.6 1266.1,676.4 1268.1,677.2 1270.1,678.1 1272.1,678.9 1274.1,679.8 1276.1,680.7 1278.1,681.6 1280.1,682.5 1282.1,683.5 1284.1,684.5 1286.1,685.5 1288.1,686.5 1290.1,687.5 1292.1,688.6 1294.1,689.6 1296.1,690.7 1298.1,691.8 1300.1,692.9 1302.1,694 1304.1,695.1 1306.1,696.2 1308.1,697.3 1310.1,698.4 1312.1,699.5 1314.1,700.6 1316.1,701.7 1318.1,702.7 1320.1,703.8 1322.1,704.8 1324.1,705.8 1326.1,706.8 1328.1,707.7 1330.1,708.7 1332.1,709.6 1334.1,710.4 1336.1,711.3 1338.1,712.1 1340.1,712.8 1342.1,713.6 1344.1,714.3 1346.1,715.1 1348.1,715.7 1350.1,716.4 1352.1,717 1354.1,717.7 1356.1,718.3 1358.1,718.8 1360.1,719.4 1362.1,719.9 1364.1,720.5 1366.1,721 1368.1,721.4 1370.1,721.9 1372.1,722.4 1374.1,722.8 1376.1,723.2 1378.1,723.7 1380.1,724.1 1382.1,724.4 1384.1,724.8 1386.1,725.2 1388.1,725.5 1390.1,725.9 1392.1,726.2 1394.1,726.6 1396.1,726.9 1398.1,727.2 1400.1,727.5 1402.1,727.8 1404.1,728.1 1406.1,728.4 1408.1,728.7 1410.1,729 1412.1,729.3 1414.1,729.6 1416.1,729.9 1418.1,730.2 1420.1,730.5 1422.1,730.8 1424.1,731 1426.1,731.3 1428.1,731.6 1430.1,731.9 1432.1,732.2 1434.1,732.5 1436.1,732.8 1438.1,733.1 1440.1,733.4 1442.1,733.7 1444.1,734 1446.1,734.2 1448.1,734.5 1450.1,734.8 1452.1,735.1 1454.1,735.4 1456.1,735.7 1458.1,736 1460.1,736.3 1462.1,736.6 1464.1,736.9 1466.1,737.2 1468.1,737.4 1470.1,737.7 1472.1,738 1474.1,738.3 1476.1,738.6 1478.1,738.9 1480.1,739.2 1482.1,739.5 1484.1,739.8 1486.1,740 1488.1,740.3 1490.1,740.6 1492.1,740.9 1494.1,741.2 1496.1,741.5 1498.1,741.8 1500.1,742.1 1502.1,742.3 1504.1,742.6 1506.1,742.9 1508.1,743.2 1510.1,743.5 1512.1,743.8 1514.1,744.1 1516.1,744.3 1518.1,744.6 1520.1,744.9 1522.1,745.2 1524.1,745.5 1526.1,745.7 1528.1,746 1530.1,746.3 1532.1,746.6 1534.1,746.9 1536.1,747.1 1538.1,747.4 1540.1,747.7 1542.1,748 1544.1,748.3 1546.1,748.5 1548.1,748.8 1550.1,749.1 1552.1,749.4 1554.1,749.6 1556.1,749.9 1558.1,750.2 1560.1,750.4 1562.1,750.7 1564.1,751 1566.1,751.2 1568.1,751.5 1570.1,751.8 1572.1,752 1574.1,752.3 1576.1,752.6 1578.1,752.8 1580.1,753.1 1582.1,753.4 1584.1,753.6 1586.1,753.9 1588.1,754.1 1590.1,754.4 1592.1,754.7 1594.1,754.9 1596.1,755.2 1598.1,755.4 1600.1,755.7 1602.1,755.9 1604.1,756.2 1606.1,756.4 1608.1,756.7 1610.1,756.9 1612.1,757.2 1614.1,757.4 1616.1,757.7 1618.1,757.9 1620.1,758.2 1622.1,758.4 1624.1,758.6 1626.1,758.9 1628.1,759.1 1630.1,759.4 1632.1,759.6 1634.1,759.8 1636.1,760.1 1638.1,760.3 1640.1,760.5 1642.1,760.8 1644.1,761 1646.1,761.2 1648.1,761.5 1650.1,761.7 1652.1,761.9 1654.1,762.1 1656.1,762.3 1658.1,762.6 1660.1,762.8 1662.1,763 1664.1,763.2 1666.1,763.4 1668.1,763.7 1670.1,763.9 1672.1,764.1 1674.1,764.3 1676.1,764.5 1678.1,764.7 1680.1,764.9 1682.1,765.1 1684.1,765.3 1686.1,765.5 1688.1,765.7 1690.1,765.9 1692.1,766.1 1694.1,766.3 1696.1,766.5 1698.1,766.7 1700.1,766.9 1702.1,767.1 1704.1,767.3 1706.1,767.5 1708.1,767.7 1710.1,767.9 1712.1,768 1714.1,768.2 1716.1,768.4 1718.1,768.6 1720.1,768.8 1722.1,768.9 1724.1,769.1 1726.1,769.3 1728.1,769.5 1730.1,769.6 1732.1,769.8 1734.1,770 1736.1,770.1 1738.1,770.3 1740.1,770.5 1742.1,770.6 1744.1,770.8 1746.1,770.9 1748.1,771.1 1750.1,771.2 1752.1,771.4 1754.1,771.5 1756.1,771.7 1758.1,771.8 1760.1,772 1762.1,772.1 1764.1,772.3 1766.1,772.4 1768.1,772.6 1770.1,772.7 1772.1,772.8 1774.1,773 1776.1,773.1 1778.1,773.2 1780.1,773.3 1782.1,773.5 1784.1,773.6 1786.1,773.7 1788.1,773.8 1790.1,774 1792.1,774.1 1794.1,774.2 1796.1,774.3 1798.1,774.4 1800.1,774.5 1802.1,774.6 1804.1,774.7 1806.1,774.8 1808.1,774.9 1810.1,775 1812.1,775.1 1814.1,775.2 1816.1,775.3 1818.1,775.4 1820.1,775.5 1822.1,775.6 1824.1,775.7 1826.1,775.8 1828.1,775.9 1830.1,775.9 1832.1,776 1834.1,776.1 1836.1,776.2 1838.1,776.2 1840.1,776.3 1842.1,776.4 1844.1,776.5 1846.1,776.5 1848.1,776.6 1850.1,776.6 1852.1,776.7 1854.1,776.8 1856.1,776.8 1858.1,776.9 1860.1,776.9 1862.1,777 1864.1,777 1866.1,777 1868.1,777.1 1870.1,777.1 1872.1,777.2 1874.1,777.2 1876.1,777.2 1878.1,777.3 1880.1,777.3 1882.1,777.3 1884.1,777.3 1886.1,777.4 1888.1,777.4 1890.1,777.4 1892.1,777.4 1894.1,777.4 1896.1,777.4 1898.1,777.4 1900.1,777.4 1902.1,777.4 1904.1,777.4 1906.1,777.4 1908.1,777.4 1910.1,777.4 1912.1,777.4 1914.1,777.4 1916.1,777.4 1918.1,777.4 1920.1,777.4 1922.1,777.3 1924.1,777.3 1926.1,777.3 1928.1,777.3 1930.1,777.2 1932.1,777.2 1934.1,777.2 1936.1,777.1 1938.1,777.1 1939.3,777.1" stroke="#000" stroke-width="6.4" fill="none" stroke-linejoin="round"/>
<path d="M190,155.3 190,157.6 190,159.7 190,161.8 190,163.9 190,165.8 190,167.6 190,169.4 190,171 190,171.1 190.6,172.7 191.9,174.2 193.6,175.7 195.3,177 196,177.5 196.9,178.2 198.4,179.3 199.9,180.5 201.5,181.6 203.2,182.7 204.8,183.7 206.5,184.7 208.3,185.6 210.1,186.5 212,187.3 213.9,188.1 215.8,188.8 217.8,189.4 219.8,190.2 221.8,191.1 223.8,192.1 225.8,193.2 227.8,194.3 229.8,195.4 231.8,196.6 233.8,197.9 235.8,199.3 237.8,200.6 239.8,202.1 241.8,203.6 243.8,205.1 245.8,206.7 247.8,208.3 249.8,210 251.8,211.6 253.8,213.4 255.8,215.1 257.8,216.9 259.8,218.7 261.8,220.6 263.8,222.4 265.8,224.3 267.8,226.2 269.8,228.1 271.8,230 273.8,232 275.8,233.9 277.8,235.9 279.8,237.8 281.8,239.8 283.8,241.7 285.8,243.7 287.8,245.6 289.8,247.5 291.8,249.5 293.8,251.4 295.8,253.3 297.8,255.1 299.8,257 301.8,258.8 303.8,260.7 305.8,262.4 307.8,264.2 309.8,265.9 311.8,267.6 313.8,269.3 315.8,270.9 317.8,272.5 319.8,274 321.8,275.6 323.8,277.1 325.8,278.6 327.8,280 329.8,281.5 331.8,282.9 333.8,284.4 335.8,285.8 337.8,287.2 339.8,288.6 341.8,290.1 343.8,291.5 345.8,293 347.8,294.5 349.8,295.9 351.8,297.5 353.8,299 355.8,300.5 357.8,302.1 359.8,303.6 361.8,305.2 363.8,306.7 365.8,308.3 367.8,309.8 369.8,311.4 371.8,312.9 373.8,314.4 375.8,315.8 377.8,317.3 379.8,318.7 381.8,320.1 383.8,321.4 385.8,322.7 387.8,324 389.8,325.2 391.8,326.4 393.8,327.5 395.8,328.6 397.8,329.7 399.8,330.8 401.8,331.8 403.8,332.8 405.8,333.8 407.8,334.7 409.8,335.6 411.8,336.5 413.8,337.4 415.8,338.3 417.8,339.1 419.8,340 421.8,340.8 423.8,341.6 425.8,342.4 427.8,343.2 429.8,344 431.8,344.8 433.8,345.6 435.8,346.3 437.8,347.1 439.8,347.8 441.8,348.6 443.8,349.3 445.8,350 447.8,350.7 449.8,351.4 451.8,352.1 453.8,352.8 455.8,353.5 457.8,354.2 459.8,354.8 461.8,355.5 463.8,356.2 465.8,356.8 467.8,357.4 469.8,358.1 471.8,358.7 473.8,359.3 475.8,359.9 477.8,360.5 479.8,361.1 481.8,361.7 483.8,362.3 485.8,362.8 487.8,363.4 489.8,364 491.8,364.5 493.8,365.1 495.8,365.6 497.8,366.2 499.8,366.7 501.8,367.2 503.8,367.7 505.8,368.3 507.8,368.8 509.8,369.3 511.8,369.8 513.8,370.3 515.8,370.8 517.8,371.3 519.8,371.7 521.8,372.2 523.8,372.7 525.8,373.1 527.8,373.6 529.8,374.1 531.8,374.5 533.8,375 535.8,375.4 537.8,375.9 539.8,376.3 541.8,376.7 543.8,377.2 545.8,377.6 547.8,378 549.8,378.5 551.8,378.9 553.8,379.3 555.8,379.7 557.8,380.1 559.8,380.5 561.8,380.9 563.8,381.3 565.8,381.7 567.8,382.1 569.8,382.5 571.8,382.9 573.8,383.3 575.8,383.7 577.8,384.1 579.8,384.5 581.8,384.8 583.8,385.2 585.8,385.6 587.8,386 589.8,386.4 591.8,386.7 593.8,387.1 595.8,387.5 597.8,387.8 599.8,388.2 601.8,388.6 603.8,389 605.8,389.3 607.8,389.7 609.8,390.1 611.8,390.4 613.8,390.8 615.8,391.2 617.8,391.5 619.8,391.9 621.8,392.3 623.8,392.6 625.8,393 627.8,393.4 629.8,393.8 631.8,394.1 633.8,394.5 635.8,394.9 637.8,395.2 639.8,395.6 641.8,396 643.8,396.4 645.8,396.8 647.8,397.1 649.8,397.5 651.8,397.9 653.8,398.3 655.8,398.7 657.8,399.1 659.8,399.5 661.8,399.8 663.8,400.2 665.8,400.6 667.8,401 669.8,401.4 671.8,401.8 673.8,402.3 675.8,402.7 677.8,403.1 679.8,403.5 681.8,403.9 683.8,404.3 685.8,404.8 687.8,405.2 689.8,405.6 691.8,406.1 693.8,406.5 695.8,406.9 697.8,407.4 699.8,407.8 701.8,408.2 703.8,408.7 705.8,409.1 707.8,409.6 709.8,410 711.8,410.5 713.8,411 715.8,411.4 717.8,411.9 719.8,412.3 721.8,412.8 723.8,413.2 725.8,413.7 727.8,414.2 729.8,414.6 731.8,415.1 733.8,415.6 735.8,416 737.8,416.5 739.8,417 741.8,417.4 743.8,417.9 745.8,418.4 747.8,418.8 749.8,419.3 751.8,419.8 753.8,420.2 755.8,420.7 757.8,421.2 759.8,421.6 761.8,422.1 763.8,422.6 765.8,423 767.8,423.5 769.8,424 771.8,424.4 773.8,424.9 775.8,425.3 777.8,425.8 779.8,426.3 781.8,426.7 783.8,427.2 785.8,427.6 787.8,428.1 789.8,428.5 791.8,429 793.8,429.4 795.8,429.9 797.8,430.3 799.8,430.7 801.8,431.2 803.8,431.6 805.8,432.1 807.8,432.5 809.8,432.9 811.8,433.4 813.8,433.8 815.8,434.2 817.8,434.6 819.8,435.1 821.8,435.5 823.8,435.9 825.8,436.4 827.8,436.8 829.8,437.3 831.8,437.7 833.8,438.2 835.8,438.6 837.8,439.1 839.8,439.5 841.8,440 843.8,440.5 845.8,441 847.8,441.5 849.8,442 851.8,442.5 853.8,443 855.8,443.5 857.8,444.1 859.8,444.6 861.8,445.2 863.8,445.8 865.8,446.4 867.8,447.1 869.8,447.8 871.8,448.6 873.8,449.5 875.8,450.4 877.8,451.4 879.8,452.4 881.8,453.6 883.8,454.8 885.8,456.2 887.8,457.6 889.8,459.2 891.8,460.8 893.8,462.5 895.8,464.3 897.8,466.1 899.8,467.9 901.8,469.7 903.8,471.6 905.8,473.4 907.8,475.1 909.8,476.9 911.8,478.5 913.8,480.1 915.8,481.6 917.8,483 919.8,484.3 921.8,485.4 923.8,486.4 925.8,487.3 927.8,488.1 929.8,488.8 931.8,489.4 933.8,490 935.8,490.5 937.8,491 939.8,491.4 941.8,491.9 943.8,492.3 945.8,492.7 947.8,493.1 949.8,493.5 951.8,493.9 953.8,494.2 955.8,494.6 957.8,494.9 959.8,495.2 961.8,495.6 963.8,495.9 965.8,496.2 967.8,496.5 969.8,496.8 971.8,497 973.8,497.3 975.8,497.6 977.8,497.8 979.8,498 981.8,498.3 983.8,498.5 985.8,498.7 987.8,498.9 989.8,499.2 991.8,499.4 993.8,499.6 995.8,499.7 997.8,499.9 999.8,500.1 1001.8,500.3 1003.8,500.5 1005.8,500.6 1007.8,500.8 1009.8,501 1011.8,501.1 1013.8,501.3 1015.8,501.4 1017.8,501.6 1019.8,501.7 1021.8,501.9 1023.8,502 1025.8,502.1 1027.8,502.3 1029.8,502.4 1031.8,502.6 1033.8,502.7 1035.8,502.8 1037.8,503 1039.8,503.1 1041.8,503.3 1043.8,503.4 1045.8,503.5 1047.8,503.7 1049.8,503.8 1051.8,504 1053.8,504.1 1055.8,504.3 1057.8,504.4 1059.8,504.6 1061.8,504.7 1063.8,504.9 1065.8,505.1 1067.8,505.2 1069.8,505.4 1071.8,505.6 1073.8,505.7 1075.8,505.9 1077.8,506.1 1079.8,506.3 1081.8,506.4 1083.8,506.6 1085.8,506.8 1087.8,507 1089.8,507.2 1091.8,507.4 1093.8,507.6 1095.8,507.8 1097.8,508 1099.8,508.2 1101.8,508.4 1103.8,508.6 1105.8,508.9 1107.8,509.1 1109.8,509.3 1111.8,509.5 1113.8,509.8 1115.8,510 1117.8,510.2 1119.8,510.5 1121.8,510.7 1123.8,511 1125.8,511.3 1127.8,511.5 1129.8,511.8 1131.8,512.1 1133.8,512.3 1135.8,512.6 1137.8,512.9 1139.8,513.2 1141.8,513.5 1143.8,513.8 1145.8,514.1 1147.8,514.4 1149.8,514.7 1151.8,515 1153.8,515.4 1155.8,515.7 1157.8,516 1159.8,516.4 1161.8,516.7 1163.8,517.1 1165.8,517.4 1167.8,517.8 1169.8,518.2 1171.8,518.6 1173.8,518.9 1175.8,519.3 1177.8,519.7 1179.8,520.1 1181.8,520.5 1183.8,520.9 1185.8,521.4 1187.8,521.8 1189.8,522.2 1191.8,522.7 1193.8,523.1 1195.8,523.6 1197.8,524 1199.8,524.5 1201.8,525 1203.8,525.4 1205.8,525.9 1207.8,526.4 1209.8,526.9 1211.8,527.4 1213.8,527.9 1215.8,528.5 1217.8,529 1219.8,529.5 1221.8,530.1 1223.8,530.6 1225.8,531.2 1227.8,531.8 1229.8,532.3 1231.8,532.9 1233.8,533.5 1235.8,534.1 1237.8,534.7 1239.8,535.4 1241.8,536 1243.8,536.6 1245.8,537.3 1247.8,537.9 1249.8,538.6 1251.8,539.2 1253.8,539.9 1255.8,540.6 1257.8,541.3 1259.8,542 1261.8,542.7 1263.8,543.4 1265.8,544.2 1267.8,544.9 1269.8,545.7 1271.8,546.4 1273.8,547.2 1275.8,548 1277.8,548.8 1279.8,549.6 1281.8,550.4 1283.8,551.2 1285.8,552 1287.8,552.9 1289.8,553.7 1291.8,554.6 1293.8,555.5 1295.8,556.4 1297.8,557.3 1299.8,558.2 1301.8,559.1 1303.8,560 1305.8,561 1307.8,561.9 1309.8,562.9 1311.8,563.9 1313.8,564.9 1315.8,565.9 1317.8,566.9 1319.8,567.9 1321.8,569 1323.8,570 1325.8,571.1 1327.8,572.2 1329.8,573.3 1331.8,574.4 1333.8,575.5 1335.8,576.6 1337.8,577.8 1339.8,578.9 1341.8,580.1 1343.8,581.2 1345.8,582.4 1347.8,583.5 1349.8,584.6 1351.8,585.8 1353.8,586.9 1355.8,588 1357.8,589 1359.8,590.1 1361.8,591.1 1363.8,592.1 1365.8,593 1367.8,594 1369.8,594.8 1371.8,595.7 1373.8,596.5 1375.8,597.3 1377.8,598 1379.8,598.7 1381.8,599.4 1383.8,600 1385.8,600.7 1387.8,601.2 1389.8,601.8 1391.8,602.3 1393.8,602.8 1395.8,603.3 1397.8,603.8 1399.8,604.2 1401.8,604.6 1403.8,605 1405.8,605.3 1407.8,605.6 1409.8,606 1411.8,606.3 1413.8,606.5 1415.8,606.8 1417.8,607 1419.8,607.3 1421.8,607.5 1423.8,607.7 1425.8,607.9 1427.8,608 1429.8,608.2 1431.8,608.3 1433.8,608.5 1435.8,608.6 1437.8,608.7 1439.8,608.8 1441.8,608.9 1443.8,609 1445.8,609.1 1447.8,609.2 1449.8,609.3 1451.8,609.4 1453.8,609.5 1455.8,609.6 1457.8,609.6 1459.8,609.7 1461.8,609.8 1463.8,609.9 1465.8,610 1467.8,610.1 1469.8,610.2 1471.8,610.3 1473.8,610.3 1475.8,610.4 1477.8,610.5 1479.8,610.6 1481.8,610.7 1483.8,610.8 1485.8,610.9 1487.8,611 1489.8,611.1 1491.8,611.2 1493.8,611.3 1495.8,611.4 1497.8,611.6 1499.8,611.7 1501.8,611.8 1503.8,611.9 1505.8,612 1507.8,612.1 1509.8,612.2 1511.8,612.3 1513.8,612.4 1515.8,612.5 1517.8,612.7 1519.8,612.8 1521.8,612.9 1523.8,613 1525.8,613.1 1527.8,613.2 1529.8,613.4 1531.8,613.5 1533.8,613.6 1535.8,613.7 1537.8,613.9 1539.8,614 1541.8,614.1 1543.8,614.2 1545.8,614.3 1547.8,614.5 1549.8,614.6 1551.8,614.7 1553.8,614.8 1555.8,615 1557.8,615.1 1559.8,615.2 1561.8,615.3 1563.8,615.5 1565.8,615.6 1567.8,615.7 1569.8,615.9 1571.8,616 1573.8,616.1 1575.8,616.2 1577.8,616.4 1579.8,616.5 1581.8,616.6 1583.8,616.8 1585.8,616.9 1587.8,617 1589.8,617.1 1591.8,617.3 1593.8,617.4 1595.8,617.5 1597.8,617.7 1599.8,617.8 1601.8,617.9 1603.8,618 1605.8,618.2 1607.8,618.3 1609.8,618.4 1611.8,618.6 1613.8,618.7 1615.8,618.8 1617.8,618.9 1619.8,619.1 1621.8,619.2 1623.8,619.3 1625.8,619.4 1627.8,619.6 1629.8,619.7 1631.8,619.8 1633.8,619.9 1635.8,620.1 1637.8,620.2 1639.8,620.3 1641.8,620.4 1643.8,620.5 1645.8,620.7 1647.8,620.8 1649.8,620.9 1651.8,621 1653.8,621.1 1655.8,621.3 1657.8,621.4 1659.8,621.5 1661.8,621.6 1663.8,621.7 1665.8,621.8 1667.8,621.9 1669.8,622.1 1671.8,622.2 1673.8,622.3 1675.8,622.4 1677.8,622.5 1679.8,622.6 1681.8,622.7 1683.8,622.8 1685.8,622.9 1687.8,623 1689.8,623.1 1691.8,623.2 1693.8,623.3 1695.8,623.4 1697.8,623.5 1699.8,623.6 1701.8,623.7 1703.8,623.8 1705.8,623.9 1707.8,624 1709.8,624.1 1711.8,624.2 1713.8,624.2 1715.8,624.3 1717.8,624.4 1719.8,624.5 1721.8,624.6 1723.8,624.7 1725.8,624.7 1727.8,624.8 1729.8,624.9 1731.8,625 1733.8,625 1735.8,625.1 1737.8,625.2 1739.8,625.3 1741.8,625.3 1743.8,625.4 1745.8,625.5 1747.8,625.5 1749.8,625.6 1751.8,625.7 1753.8,625.7 1755.8,625.8 1757.8,625.8 1759.8,625.9 1761.8,626 1763.8,626 1765.8,626.1 1767.8,626.1 1769.8,626.2 1771.8,626.2 1773.8,626.3 1775.8,626.3 1777.8,626.4 1779.8,626.4 1781.8,626.5 1783.8,626.5 1785.8,626.6 1787.8,626.6 1789.8,626.7 1791.8,626.7 1793.8,626.8 1795.8,626.8 1797.8,626.9 1799.8,626.9 1801.8,627 1803.8,627 1805.8,627.1 1807.8,627.1 1809.8,627.1 1811.8,627.2 1813.8,627.2 1815.8,627.3 1817.8,627.3 1819.8,627.4 1821.8,627.4 1823.8,627.4 1825.8,627.5 1827.8,627.5 1829.8,627.6 1831.8,627.6 1833.8,627.7 1835.8,627.7 1837.8,627.7 1839.8,627.8 1841.8,627.8 1843.8,627.9 1845.8,627.9 1847.8,628 1849.8,628 1851.8,628 1853.8,628.1 1855.8,628.1 1857.8,628.2 1859.8,628.2 1861.8,628.3 1863.8,628.3 1865.8,628.4 1867.8,628.4 1869.8,628.5 1871.8,628.5 1873.8,628.5 1875.8,628.6 1877.8,628.6 1879.8,628.7 1881.8,628.8 1883.8,628.8 1885.8,628.9 1887.8,628.9 1889.8,629 1891.8,629 1893.8,629.1 1895.8,629.1 1897.8,629.2 1899.8,629.2 1901.8,629.3 1903.8,629.4 1905.8,629.4 1907.8,629.5 1909.8,629.5 1911.8,629.6 1913.8,629.7 1915.8,629.7 1917.8,629.8 1919.8,629.9 1921.8,630 1923.8,630 1925.8,630.1 1927.8,630.2 1929.8,630.2 1931.8,630.3 1933.8,630.4 1935.8,630.5 1937.8,630.6 1938,630.6" stroke="#808080" stroke-width="9" fill="none" stroke-dasharray="0 0.6 16 25.2 16 27.4 16 25.3 16 24.8 16 28.8 16 26.5 16 28.9 16 28.7 16 27.7 16 27.1 16 26.8 16 28.7 16 26.8 16 27 16 27.1 16 27.1 16 31.2 16 22.9 16 25.8 16 27.2 16 27.2 16 28.1 16 28.2 16 26.3 16 26.6 16 27.1 16 27.9 16 22.7 16 26.4 16 25 16 31 16 31 16 32.1 16 26.1 16 28.1 16 26.1 16 26.1 16 28 16 26 16 28 16 26 16 28 16 22 16 5000"/>
<rect x="831.9" y="432.3" width="16" height="16" fill="#000"/>
<rect x="949.8" y="486.6" width="16" height="16" fill="#000"/>
<rect x="1150.9" y="509" width="16" height="16" fill="#000"/>
<rect x="1400.7" y="596.9" width="16" height="16" fill="#000"/>
<circle cx="845.5" cy="537.6" r="8.6" fill="#000"/>
<circle cx="991.5" cy="618.5" r="8.6" fill="#000"/>
<circle cx="1121" cy="639.8" r="8.6" fill="#000"/>
<circle cx="1415.7" cy="730.5" r="8.6" fill="#000"/>
<path d="M182,153.3 V1327.8" stroke="#000" stroke-width="5.4"/>
<path d="M157,156 H182" stroke="#000" stroke-width="5.4"/>
<text x="59.9" y="171.7" font-size="54" fill="#000">100</text>
<path d="M157,272.9 H182" stroke="#000" stroke-width="5.4"/>
<text x="84.7" y="288.6" font-size="54" fill="#000">95</text>
<path d="M157,389.8 H182" stroke="#000" stroke-width="5.4"/>
<text x="84.6" y="405.5" font-size="54" fill="#000">90</text>
<path d="M157,506.7 H182" stroke="#000" stroke-width="5.4"/>
<text x="84.7" y="522.4" font-size="54" fill="#000">85</text>
<path d="M157,623.6 H182" stroke="#000" stroke-width="5.4"/>
<text x="84.6" y="639.3" font-size="54" fill="#000">80</text>
<path d="M157,740.5 H182" stroke="#000" stroke-width="5.4"/>
<text x="84.7" y="756.2" font-size="54" fill="#000">75</text>
<path d="M157,857.5 H182" stroke="#000" stroke-width="5.4"/>
<text x="84.6" y="873.1" font-size="54" fill="#000">70</text>
<path d="M157,974.4 H182" stroke="#000" stroke-width="5.4"/>
<text x="84.7" y="990" font-size="54" fill="#000">65</text>
<path d="M157,1091.3 H182" stroke="#000" stroke-width="5.4"/>
<text x="84.6" y="1106.9" font-size="54" fill="#000">60</text>
<path d="M157,1208.2 H182" stroke="#000" stroke-width="5.4"/>
<text x="84.7" y="1223.9" font-size="54" fill="#000">55</text>
<path d="M157,1325.1 H182" stroke="#000" stroke-width="5.4"/>
<text x="84.6" y="1340.8" font-size="54" fill="#000">50</text>
<path d="M1940.5,153.3 V1327.8" stroke="#000080" stroke-width="5.4"/>
<path d="M1940.5,156 H1965.5" stroke="#000080" stroke-width="5.4"/>
<text x="1982.1" y="171.4" font-size="54" fill="#000080">2.0</text>
<path d="M1940.5,350.9 H1965.5" stroke="#000080" stroke-width="5.4"/>
<text x="1982.9" y="366.3" font-size="54" fill="#000080">1.5</text>
<path d="M1940.5,545.7 H1965.5" stroke="#000080" stroke-width="5.4"/>
<text x="1982.9" y="561.1" font-size="54" fill="#000080">1.0</text>
<path d="M1940.5,740.5 H1965.5" stroke="#000080" stroke-width="5.4"/>
<text x="1982.4" y="756" font-size="54" fill="#000080">0.5</text>
<path d="M1940.5,935.4 H1965.5" stroke="#000080" stroke-width="5.4"/>
<text x="1982.4" y="950.8" font-size="54" fill="#000080">0.0</text>
<path d="M1940.5,1130.2 H1965.5" stroke="#000080" stroke-width="5.4"/>
<text x="1981.8" y="1145.7" font-size="54" fill="#000080">−0.5</text>
<path d="M1940.5,1325.1 H1965.5" stroke="#000080" stroke-width="5.4"/>
<text x="1981.8" y="1340.5" font-size="54" fill="#000080">−1.0</text>
<path d="M157,1325.1 H1937.8" stroke="#000" stroke-width="5.4"/>
<path d="M308.9,1325.1 V1337.6" stroke="#000" stroke-width="5.4"/>
<path d="M490.2,1325.1 V1350.1" stroke="#000" stroke-width="5.4"/>
<path d="M671.5,1325.1 V1337.6" stroke="#000" stroke-width="5.4"/>
<path d="M852.8,1325.1 V1350.1" stroke="#000" stroke-width="5.4"/>
<path d="M1034.1,1325.1 V1337.6" stroke="#000" stroke-width="5.4"/>
<path d="M1215.3,1325.1 V1350.1" stroke="#000" stroke-width="5.4"/>
<path d="M1396.6,1325.1 V1337.6" stroke="#000" stroke-width="5.4"/>
<path d="M1577.9,1325.1 V1350.1" stroke="#000" stroke-width="5.4"/>
<path d="M1759.2,1325.1 V1337.6" stroke="#000" stroke-width="5.4"/>
<path d="M1940.5,1325.1 V1350.1" stroke="#000" stroke-width="5.4"/>
<path d="M182,1325.1 V1350.1" stroke="#000" stroke-width="5.4"/>
<text x="154.8" y="1407.6" font-size="54" fill="#000">30</text>
<text x="449.6" y="1407.6" font-size="54" fill="#000">200</text>
<text x="812.8" y="1407.6" font-size="54" fill="#000">400</text>
<text x="1174.7" y="1407.6" font-size="54" fill="#000">600</text>
<text x="1537.4" y="1407.6" font-size="54" fill="#000">800</text>
<text x="1885.2" y="1407.6" font-size="54" fill="#000">1000</text>
<text x="81.8" y="122" font-size="66.5" fill="#000">TG/(%)</text>
<text x="1717.8" y="117.5" font-size="66.5" fill="#000080">DTG/(%/min)</text>
<text x="907.5" y="1516.2" font-size="66.5" fill="#000">Temp. (°C)</text>
<text x="1043" y="1613.2" font-size="66.5" fill="#000">(<tspan font-weight="bold">c</tspan>)</text>
<text x="778.9" y="404.4" font-size="54" fill="#000">87.84</text>
<text x="906.6" y="467.5" font-size="54" fill="#000">85.52</text>
<text x="1149.2" y="502.8" font-size="54" fill="#000">84.56</text>
<text x="1367.3" y="578.6" font-size="54" fill="#000">80.80</text>
<text x="711.5" y="586.8" font-size="54" fill="#000">83.68</text>
<text x="852" y="674.7" font-size="54" fill="#000">80.22</text>
<text x="1116" y="704" font-size="54" fill="#000">79.31</text>
<text x="1430.3" y="817.1" font-size="54" fill="#000">75.43</text>
<text x="760.9" y="953.1" font-size="48.5" fill="#000">Ca(OH)<tspan font-size="33.5" dy="13.1">2</tspan></text>
<text x="1213.5" y="961.2" font-size="48.5" fill="#000">CaCO<tspan font-size="33.5" dy="13.1">3</tspan></text>
<path d="M1649,215.2 H1773" stroke="#000" stroke-width="6.4"/>
<path d="M1649,282.2 H1773" stroke="#808080" stroke-width="9" stroke-dasharray="16 27.4"/>
<path d="M1649,349 H1773" stroke="#000080" stroke-width="5.6"/>
<path d="M1649.5,415.5 H1765" stroke="#7b8cff" stroke-width="10.4" stroke-linecap="round" stroke-dasharray="0 18.75" stroke-opacity="0.6"/>
<text x="1784.8" y="232.5" font-size="54" fill="#000">0-28</text>
<text x="1784.3" y="299.5" font-size="54" fill="#000">35-28</text>
<text x="1784.8" y="366.3" font-size="54" fill="#000">0-28</text>
<text x="1784.3" y="432.8" font-size="54" fill="#000">35-28</text>
<path d="M188.2,2167.6 H819.9 M819.9,2167.6 V2906.4" stroke="#000" stroke-width="2.2" fill="none" stroke-dasharray="2.6 6.8"/>
<path d="M188.2,2229.3 H972.5 M972.5,2229.3 V2906.4" stroke="#000" stroke-width="2.2" fill="none" stroke-dasharray="2.6 6.8"/>
<path d="M188.2,2260.5 H1170.6 M1170.6,2260.5 V2906.4" stroke="#000" stroke-width="2.2" fill="none" stroke-dasharray="2.6 6.8"/>
<path d="M188.2,2305 H1368 M1368,2305 V2906.4" stroke="#000" stroke-width="2.2" fill="none" stroke-dasharray="2.6 6.8"/>
<path d="M188.2,2165.5 H799.4 M799.4,2165.5 V2906.4" stroke="#000" stroke-width="2.2" fill="none" stroke-dasharray="7.8 7.6"/>
<path d="M188.2,2256.7 H988.7 M988.7,2256.7 V2906.4" stroke="#000" stroke-width="2.2" fill="none" stroke-dasharray="7.8 7.6"/>
<path d="M188.2,2266.8 H1073.5 M1073.5,2266.8 V2906.4" stroke="#000" stroke-width="2.2" fill="none" stroke-dasharray="7.8 7.6"/>
<path d="M188.2,2315.8 H1391.3 M1391.3,2315.8 V2906.4" stroke="#000" stroke-width="2.2" fill="none" stroke-dasharray="7.8 7.6"/>
<path d="M191.5,2684.4 192.2,2681 192.8,2678.5 193.4,2676.8 194,2675.9 194.3,2675.8 194.6,2676 195.1,2677.3 195.6,2679.5 196,2682.1 196.4,2684.5 196.5,2685 196.7,2686.5 197,2688.4 197.3,2690.4 197.5,2692.4 197.8,2694.4 198,2696.4 198.2,2697.8 198.3,2698.4 198.5,2700.4 198.8,2702.3 199.1,2704.3 199.3,2706.3 199.6,2708.3 199.8,2710.3 200.1,2712.3 200.3,2714.2 200.6,2716.2 200.9,2718.2 201.1,2720.2 201.4,2722.2 201.7,2724.1 201.9,2726.1 202,2726.5 202.2,2728.1 202.5,2730.1 202.8,2732.1 203,2734.1 203.3,2736.1 203.6,2738.1 203.8,2740.1 204.1,2742.1 204.4,2744 204.7,2746 205,2748 205.3,2750 205.7,2751.9 206.1,2753.9 206.5,2755.8 206.8,2757.1 206.9,2757.7 207.5,2759.6 208,2761.6 208.7,2763.5 209.4,2765.4 210.1,2767.3 210.9,2769.2 211.7,2771 212.6,2772.8 213.5,2774.6 214.4,2776.2 214.4,2776.3 215.5,2777.9 216.6,2779.5 217.9,2781 219.2,2782.5 220.6,2784 222,2785.5 223.5,2786.9 224.8,2788.4 225.9,2789.6 226.2,2789.9 227.5,2791.4 228.9,2792.9 230.3,2794.3 231.8,2795.8 233.2,2797.3 234.5,2798.7 235.9,2800.2 237.1,2801.8 238.3,2803.3 239.3,2804.9 239.3,2805 240.3,2806.7 241.2,2808.4 242,2810.2 242.8,2812 243.6,2813.9 244.4,2815.8 245.1,2817.7 245.9,2819.5 246.7,2821.4 247,2822.1 247.5,2823.2 248.3,2825.1 249.1,2826.9 249.9,2828.7 250.7,2830.6 251.5,2832.4 252.3,2834.2 253.1,2836.1 253.9,2837.9 254.8,2839.7 255.6,2841.5 256.5,2843.2 256.5,2843.3 257.4,2845.1 258.3,2846.9 259.3,2848.7 260.4,2850.3 260.6,2850.6 261.7,2851.9 263.2,2853.5 264.9,2854.8 266.6,2855.6 267.1,2855.6 268.4,2855.5 270.5,2855 272.4,2854.3 273.5,2853.8 274.1,2853.5 275.6,2852.2 276.9,2850.7 278.2,2849 279.4,2847.3 279.5,2847.2 280.6,2845.7 281.7,2844.1 282.8,2842.4 283.8,2840.7 284.8,2839 285.8,2837.2 286.8,2835.5 287.7,2833.7 288.7,2831.9 289.7,2830.2 290.7,2828.4 291,2827.9 291.7,2826.7 292.7,2825 293.8,2823.3 294.8,2821.6 295.8,2819.9 296.8,2818.1 297.9,2816.4 298.9,2814.7 299.9,2813 301,2811.3 302,2809.6 303,2807.8 304,2806.1 305,2804.4 306,2802.6 307,2800.9 308,2799.2 308.9,2797.4 309.9,2795.7 310.1,2795.3 310.8,2793.9 311.8,2792.1 312.7,2790.4 313.6,2788.6 314.5,2786.8 315.4,2785 316.3,2783.2 317.2,2781.5 318.1,2779.7 319,2777.9 319.9,2776.1 320.8,2774.3 321.6,2772.5 322.5,2770.7 323.4,2768.9 324.3,2767.1 325.1,2765.3 325.4,2764.7 326,2763.5 326.9,2761.7 327.7,2759.9 328.6,2758 329.4,2756.2 330.2,2754.4 331.1,2752.6 331.9,2750.8 332.7,2749 333.6,2747.1 334.4,2745.3 335.3,2743.5 336.1,2741.7 337,2739.9 337.8,2738.1 338.7,2736.3 339.6,2734.5 340.4,2732.7 340.7,2732.2 341.3,2730.9 342.2,2729.1 343.1,2727.3 344,2725.5 344.9,2723.7 345.7,2721.9 346.6,2720 347.5,2718.2 348.4,2716.4 349.4,2714.7 350.3,2712.9 351.3,2711.1 352.3,2709.4 353.3,2707.7 354.3,2706 355.4,2704.4 356,2703.5 356.5,2702.8 357.7,2701.2 358.9,2699.7 360.2,2698.1 361.5,2696.6 362.9,2695.2 364.3,2693.7 365.7,2692.2 367.1,2690.8 368.5,2689.3 369.9,2687.9 371.2,2686.4 371.3,2686.3 372.6,2684.9 373.9,2683.4 375.3,2682 376.6,2680.5 378,2679 379.3,2677.5 380.7,2676.1 382,2674.6 383.4,2673.1 384.7,2671.7 386.1,2670.2 387.4,2668.7 388.7,2667.2 390.1,2665.7 390.5,2665.2 391.4,2664.2 392.7,2662.7 394,2661.2 395.4,2659.7 396.7,2658.2 398,2656.7 399.3,2655.1 400.6,2653.6 401.9,2652.1 403.2,2650.5 404.5,2649 405.7,2647.4 406.9,2645.9 408.1,2644.3 409.3,2642.7 409.6,2642.3 410.5,2641.1 411.6,2639.4 412.8,2637.8 413.9,2636.2 415,2634.5 416.1,2632.8 417.2,2631.1 418.3,2629.5 419.3,2627.8 420.4,2626 421.4,2624.3 422.5,2622.6 423.5,2620.9 424.5,2619.2 425.5,2617.4 426.5,2615.7 427.5,2613.9 428.4,2612.2 428.7,2611.7 429.4,2610.4 430.3,2608.7 431.2,2606.9 432.1,2605.1 432.9,2603.3 433.8,2601.5 434.7,2599.7 435.5,2597.8 436.4,2596 437.2,2594.2 438.1,2592.4 439,2590.7 440,2588.9 440,2588.8 440.9,2587.1 441.9,2585.4 442.8,2583.6 443.8,2581.8 444.7,2580 445.7,2578.3 446.7,2576.5 447.7,2574.8 448.7,2573 449.8,2571.3 450.8,2569.6 451.9,2568 453.1,2566.3 454.2,2564.7 455.3,2563.3 455.4,2563.2 456.6,2561.6 457.9,2560.1 459.2,2558.6 460.6,2557.1 461.9,2555.7 463.4,2554.2 464.8,2552.8 466.3,2551.4 467.8,2550.1 469.3,2548.7 470.8,2547.4 472.3,2546.1 473.2,2545.4 473.8,2544.9 475.4,2543.6 477,2542.4 478.6,2541.2 480.2,2540 481.8,2538.8 483.5,2537.7 485.2,2536.6 486.8,2535.5 488.6,2534.4 490.3,2533.3 492,2532.3 493.7,2531.4 495.5,2530.4 496.1,2530.1 497.2,2529.5 499,2528.6 500.8,2527.7 502.6,2526.8 504.4,2525.9 506.2,2525 508.1,2524.1 509.9,2523.3 511.8,2522.5 513.7,2521.7 515.6,2521 517.5,2520.4 519.4,2519.8 521.3,2519.3 523.2,2518.8 524.2,2518.6 525.1,2518.4 527,2518.1 529,2517.8 530.9,2517.5 532.9,2517.2 534.9,2517 536.9,2516.8 538.9,2516.5 540.9,2516.3 542.9,2516.1 544.9,2515.9 546.9,2515.7 548.9,2515.5 550.9,2515.3 552.9,2515 554.8,2514.8 554.9,2514.8 556.9,2514.5 558.8,2514.2 560.8,2514 562.8,2513.7 564.8,2513.4 566.8,2513.1 568.7,2512.7 570.7,2512.4 572.7,2512.1 574.7,2511.8 576.6,2511.5 578.6,2511.2 580.6,2510.9 582.6,2510.6 584.5,2510.3 586.5,2510.1 588.5,2509.8 590.5,2509.5 592.5,2509.3 593.1,2509.2 594.5,2509 596.4,2508.8 598.4,2508.6 600.4,2508.4 602.4,2508.2 604.4,2508 606.4,2507.8 608.4,2507.6 610.4,2507.4 612.4,2507.2 614.3,2507 616.3,2506.8 618.3,2506.7 620.3,2506.5 622.3,2506.3 624.3,2506.1 626.3,2505.9 628.3,2505.7 630.3,2505.5 632.3,2505.3 633.9,2505.1 634.2,2505.1 636.2,2504.8 638.2,2504.5 640.2,2504.2 642.2,2503.9 644.2,2503.6 646.1,2503.3 648.1,2503 650.1,2502.8 652.1,2502.7 654.1,2502.6 654.3,2502.6 656.1,2502.6 658.1,2502.6 660.1,2502.7 662.1,2502.7 664.1,2502.7 666.1,2502.8 668.1,2502.9 670.1,2503 672.1,2503 674.1,2503.1 676.1,2503.2 678.1,2503.3 680.1,2503.4 682.1,2503.5 684.1,2503.6 686.1,2503.7 688.1,2503.8 690.1,2503.9 692.1,2504 694.1,2504.1 695.1,2504.1 696.1,2504.1 698.1,2504.2 700.1,2504.3 702.1,2504.3 704.1,2504.4 706.1,2504.5 708.1,2504.5 710.1,2504.6 712.1,2504.7 714.1,2504.8 716.1,2504.8 718,2504.9 720,2505.1 720.6,2505.1 722,2505.2 724,2505.5 726,2505.8 727.9,2506.3 729.9,2506.7 731.9,2507.2 733.8,2507.7 735.8,2508.2 737.7,2508.7 739.7,2509.1 741.7,2509.4 743.6,2509.6 745.6,2509.7 746.1,2509.7 747.6,2509.7 749.6,2509.7 751.6,2509.6 753.6,2509.5 755.6,2509.4 757.6,2509.3 759.6,2509.2 761.6,2509 763.6,2508.9 765.6,2508.8 767.6,2508.6 769.6,2508.5 771.6,2508.4 771.6,2508.4 773.6,2508.3 775.6,2508.2 777.6,2508 779.6,2507.9 781.7,2507.7 783.7,2507.5 785.7,2507.4 787.7,2507.2 789.8,2507.1 791.8,2507 793.7,2506.9 795.7,2506.8 797.7,2506.7 799.6,2506.6 801.5,2506.6 802.2,2506.6 803.5,2506.7 805.4,2507.1 807.2,2507.8 809.1,2508.7 810.9,2509.7 812.7,2510.8 814.4,2511.9 815,2512.2 816.1,2512.9 817.7,2514.1 819.3,2515.5 820,2516.2 820.6,2516.9 821.9,2518.3 823.2,2519.9 824.4,2521.6 825.5,2523.2 826.6,2524.9 827.6,2526.7 828.3,2527.8 828.6,2528.4 829.6,2530.1 830.5,2531.9 831.3,2533.7 832.1,2535.5 832.9,2537.4 833.7,2539.2 834.5,2541.1 835.3,2542.9 836.1,2544.8 836.6,2546 836.9,2546.6 837.7,2548.4 838.4,2550.3 839.2,2552.1 840,2554 840.8,2555.8 841.5,2557.7 842.3,2559.5 843.1,2561.4 843.8,2563.2 844.6,2565.1 844.9,2565.9 845.3,2566.9 846,2568.8 846.8,2570.6 847.5,2572.5 848.2,2574.4 848.9,2576.3 849.6,2578.1 850.3,2580 851,2581.9 851.7,2583.7 852.4,2585.6 853.2,2587.5 853.2,2587.5 853.9,2589.3 854.7,2591.2 855.4,2593 856.1,2594.9 856.9,2596.8 857.6,2598.6 858.4,2600.5 859.2,2602.3 860,2604.1 860.8,2606 861.5,2607.4 861.7,2607.7 862.6,2609.5 863.5,2611.4 864.4,2613.2 865.4,2615 866.4,2616.7 867.4,2618.4 868.6,2620 869.7,2621.5 869.7,2621.6 871,2623.1 872.5,2624.5 874,2625.9 875.6,2627.1 876.5,2627.6 877.3,2628 879.1,2629 881,2629.8 883,2630.4 884.7,2630.6 884.9,2630.6 886.9,2630.4 888.9,2630.1 890.8,2629.6 891.5,2629.4 892.7,2629 894.5,2628 896.2,2626.9 897.8,2625.7 897.9,2625.6 899.3,2624.5 900.7,2623.1 902.1,2621.7 903.5,2620.2 904.8,2618.6 906.1,2617 907.3,2615.4 908.5,2613.8 909.5,2612.4 909.7,2612.2 910.8,2610.6 911.9,2608.9 913,2607.2 914.1,2605.5 915.2,2603.8 916.2,2602.1 917.2,2600.3 918.1,2598.6 919,2596.8 919.5,2595.8 919.9,2595 920.7,2593.2 921.5,2591.4 922.2,2589.5 923,2587.7 923.7,2585.8 924.4,2583.9 925.1,2582 925.7,2580.1 926.4,2578.2 927.1,2576.3 927.7,2574.4 927.8,2574.2 928.4,2572.6 929,2570.7 929.6,2568.8 930.2,2566.9 930.8,2565 931.4,2563 932,2561.1 932.6,2559.2 933.2,2557.3 933.8,2555.4 934.4,2553.5 934.9,2551.6 935.5,2549.6 936.1,2547.7 936.1,2547.7 936.7,2545.8 937.2,2543.9 937.8,2542 938.3,2540.1 938.9,2538.1 939.4,2536.2 940,2534.3 940.5,2532.4 941.1,2530.4 941.6,2528.5 942.2,2526.6 942.8,2524.7 943.4,2522.8 944,2520.9 944.4,2519.5 944.6,2519 945.2,2517.1 945.8,2515.2 946.4,2513.3 947.1,2511.4 947.7,2509.5 948.4,2507.6 949.1,2505.7 949.8,2503.8 950.5,2501.9 951.2,2500.1 951.9,2498.2 952.7,2496.4 952.7,2496.3 953.4,2494.5 954.2,2492.7 955,2490.8 955.8,2488.9 956.7,2487.1 957.5,2485.2 958.4,2483.4 959.4,2481.7 960.3,2479.9 961.4,2478.3 962.4,2476.6 962.6,2476.4 963.6,2475.1 964.8,2473.5 966.2,2471.9 967.6,2470.4 969.1,2469 970.6,2467.7 972.2,2466.6 972.6,2466.4 973.9,2465.7 975.7,2464.9 977.5,2464.1 979.4,2463.4 981.4,2462.8 983.3,2462.2 985.3,2461.6 985.8,2461.5 987.2,2461.1 989.1,2460.6 991.1,2460.2 993,2459.7 995,2459.3 997,2459 999,2458.6 1000.9,2458.3 1002.4,2458.1 1002.9,2458 1004.9,2457.8 1006.9,2457.5 1008.9,2457.2 1010.8,2457 1012.8,2456.7 1014.8,2456.5 1016.8,2456.3 1018.8,2456.1 1020.8,2455.9 1022.8,2455.8 1024.8,2455.7 1026.8,2455.7 1027.3,2455.7 1028.8,2455.7 1030.8,2455.7 1032.8,2455.7 1034.8,2455.8 1036.8,2455.8 1038.8,2455.8 1040.8,2455.8 1042.8,2455.9 1044.8,2455.9 1046.8,2456 1048.8,2456 1050.8,2456 1052.8,2456.1 1054.8,2456.1 1056.8,2456.1 1058.8,2456.1 1060,2456.1 1060.8,2456.1 1062.8,2456.1 1064.8,2456 1066.8,2456 1068.8,2455.9 1070.8,2455.8 1072.8,2455.8 1074.8,2455.7 1076.8,2455.7 1077.9,2455.7 1078.8,2455.7 1080.8,2455.7 1082.8,2455.8 1084.8,2455.9 1086.8,2456 1088.7,2456.2 1090.7,2456.4 1092.7,2456.6 1094.7,2456.8 1096.7,2457 1098.7,2457.3 1100.7,2457.6 1102.7,2457.8 1104.7,2458.1 1106.7,2458.4 1108.6,2458.6 1110.6,2458.9 1112.6,2459.2 1113.6,2459.3 1114.6,2459.4 1116.6,2459.7 1118.5,2460 1120.5,2460.3 1122.5,2460.7 1124.4,2461 1126.4,2461.4 1128.4,2461.8 1130.3,2462.1 1132.3,2462.5 1134.3,2462.9 1136.2,2463.3 1138.2,2463.7 1140.2,2464 1142.1,2464.4 1144.1,2464.7 1146.1,2465 1148.1,2465.3 1149.3,2465.5 1150,2465.6 1152,2465.9 1154,2466.1 1156,2466.4 1158,2466.6 1160,2466.8 1161.9,2467 1163.9,2467.3 1165.9,2467.5 1167.9,2467.7 1169.9,2467.9 1171.9,2468.1 1173.9,2468.3 1175.9,2468.5 1177.9,2468.8 1179.8,2469 1181.8,2469.2 1183.8,2469.5 1185,2469.6 1185.8,2469.7 1187.8,2470 1189.8,2470.2 1191.7,2470.5 1193.7,2470.7 1195.7,2471 1197.7,2471.3 1199.7,2471.6 1201.6,2471.9 1203.6,2472.1 1205.6,2472.4 1207.6,2472.7 1209.6,2473 1211.5,2473.3 1213.5,2473.5 1215.5,2473.8 1217.5,2474.1 1219.5,2474.3 1220.7,2474.5 1221.5,2474.6 1223.4,2474.9 1225.4,2475.1 1227.4,2475.4 1229.4,2475.7 1231.4,2475.9 1233.4,2476.2 1235.3,2476.4 1237.3,2476.7 1239.3,2477 1241.3,2477.2 1243.3,2477.5 1245.3,2477.7 1247.2,2477.9 1249.2,2478.2 1251.2,2478.4 1253.2,2478.6 1255.2,2478.8 1256.4,2478.9 1257.2,2479 1259.2,2479.2 1261.2,2479.4 1263.2,2479.6 1265.2,2479.8 1267.2,2480 1269.2,2480.2 1271.2,2480.3 1273.2,2480.5 1275.2,2480.6 1277.1,2480.7 1279.1,2480.7 1279.6,2480.7 1281.1,2480.7 1283,2480.5 1285,2480.2 1287,2479.7 1288.9,2479.2 1290.8,2478.7 1292.8,2478.1 1294.7,2477.4 1296.6,2476.8 1298.6,2476.2 1300.5,2475.6 1301.1,2475.4 1302.4,2475 1304.3,2474.5 1306.2,2473.9 1308.1,2473.3 1310,2472.7 1311.9,2472 1313.8,2471.4 1315.7,2470.7 1317.6,2470.1 1318.9,2469.6 1319.5,2469.4 1321.4,2468.7 1323.2,2468 1325.1,2467.3 1327,2466.5 1328.8,2465.8 1330.7,2465 1332.5,2464.3 1334.4,2463.5 1336.2,2462.7 1338.1,2461.9 1339.9,2461.1 1340,2461.1 1341.7,2460.3 1343.5,2459.5 1345.3,2458.5 1347.1,2457.6 1348.9,2456.6 1350.7,2455.7 1352.5,2454.7 1354.3,2453.8 1356.1,2452.8 1357.9,2452 1359.7,2451.2 1361.6,2450.4 1363.4,2449.8 1365.3,2449.2 1366.6,2448.9 1367.2,2448.8 1369.1,2448.3 1371,2447.9 1373,2447.5 1375,2447.1 1376.9,2446.7 1378.9,2446.4 1380.9,2446.1 1382.9,2445.8 1384.9,2445.6 1386.9,2445.4 1388.9,2445.3 1390.9,2445.2 1391.9,2445.2 1392.9,2445.2 1394.9,2445.2 1396.9,2445.2 1398.9,2445.2 1400.9,2445.3 1402.9,2445.3 1404.9,2445.3 1406.9,2445.4 1408.9,2445.4 1410.9,2445.5 1412.9,2445.5 1414.9,2445.6 1416.9,2445.7 1418.9,2445.7 1420.9,2445.8 1422.9,2445.8 1424.9,2445.9 1426.9,2446 1428.4,2446 1428.9,2446 1430.9,2446.1 1432.9,2446.1 1434.9,2446.2 1436.9,2446.3 1438.9,2446.4 1440.9,2446.5 1442.9,2446.6 1444.9,2446.6 1446.9,2446.7 1448.9,2446.8 1450.9,2446.9 1452.9,2447 1454.9,2447.1 1456.9,2447.3 1458.9,2447.4 1460.9,2447.5 1462.9,2447.6 1464.9,2447.7 1466.9,2447.8 1468.9,2447.9 1470.9,2448.1 1472.9,2448.2 1474.9,2448.3 1476.9,2448.4 1478.8,2448.6 1480.8,2448.7 1482.8,2448.8 1484.5,2448.9 1484.8,2448.9 1486.8,2449 1488.8,2449.2 1490.8,2449.3 1492.8,2449.4 1494.8,2449.6 1496.8,2449.7 1498.8,2449.8 1500.8,2450 1502.8,2450.1 1504.8,2450.3 1506.8,2450.4 1508.8,2450.5 1510.8,2450.7 1512.8,2450.8 1514.8,2451 1516.8,2451.1 1518.7,2451.3 1520.7,2451.5 1522.7,2451.6 1524.7,2451.8 1526.7,2451.9 1528.7,2452.1 1530.7,2452.3 1532.7,2452.4 1534.7,2452.6 1536.7,2452.8 1538.7,2452.9 1540.6,2453.1 1540.7,2453.1 1542.7,2453.3 1544.7,2453.5 1546.6,2453.6 1548.6,2453.8 1550.6,2454 1552.6,2454.2 1554.6,2454.4 1556.6,2454.6 1558.6,2454.8 1560.6,2455 1562.6,2455.2 1564.6,2455.4 1566.5,2455.6 1568.5,2455.8 1570.5,2456 1572.5,2456.2 1574.5,2456.4 1576.5,2456.6 1578.5,2456.9 1580.5,2457.1 1582.5,2457.3 1582.7,2457.3 1584.4,2457.5 1586.4,2457.7 1588.4,2457.9 1590.4,2458.2 1592.4,2458.4 1594.4,2458.7 1596.4,2458.9 1598.3,2459.1 1600.3,2459.4 1602.3,2459.6 1604.3,2459.9 1606.3,2460.1 1608.3,2460.4 1610.3,2460.6 1612.2,2460.8 1614.2,2461 1616.2,2461.2 1618.2,2461.4 1620.2,2461.6 1622.2,2461.8 1624.2,2462 1624.8,2462 1626.2,2462.1 1628.2,2462.2 1630.2,2462.4 1632.2,2462.5 1634.1,2462.7 1636.1,2462.8 1638.1,2462.9 1640.1,2463.1 1642.1,2463.2 1644.1,2463.3 1646.1,2463.4 1648.1,2463.5 1650.1,2463.6 1652.1,2463.7 1654.1,2463.8 1656.1,2463.9 1658.1,2464 1660.1,2464.1 1662.1,2464.2 1664.1,2464.2 1666.1,2464.3 1666.9,2464.3 1668.1,2464.3 1670.1,2464.4 1672.1,2464.4 1674.1,2464.5 1676.1,2464.5 1678.1,2464.6 1680.1,2464.6 1682.1,2464.7 1684.1,2464.7 1686.1,2464.8 1688.1,2464.8 1690.1,2464.8 1692.1,2464.9 1694.1,2464.9 1696.1,2464.9 1698.1,2464.9 1700,2464.9 1700.1,2464.9 1702.1,2464.9 1704.1,2464.9 1706.1,2464.9 1708.1,2464.9 1710.1,2464.9 1712.1,2464.8 1714.1,2464.8 1716.1,2464.8 1718.1,2464.8 1720.1,2464.8 1722.1,2464.7 1724.1,2464.7 1726.1,2464.7 1728.1,2464.6 1730.1,2464.6 1732.1,2464.5 1734.1,2464.5 1736.1,2464.5 1738.1,2464.4 1740.1,2464.4 1742.1,2464.3 1742.5,2464.3 1744.1,2464.2 1746.1,2464.1 1748,2464 1750,2463.8 1752,2463.6 1754,2463.3 1755.9,2463 1757.9,2462.7 1759.9,2462.4 1761.9,2462 1763.8,2461.6 1765.8,2461.2 1767.8,2460.8 1769.7,2460.4 1771.7,2460 1773.7,2459.6 1775.7,2459.2 1777.6,2458.8 1779.6,2458.4 1781.6,2458 1783.5,2457.7 1785.5,2457.4 1787.1,2457.1 1787.5,2457 1789.5,2456.7 1791.4,2456.4 1793.4,2456.1 1795.4,2455.7 1797.4,2455.4 1799.3,2455.1 1801.3,2454.7 1803.3,2454.4 1805.3,2454 1807.2,2453.7 1809.2,2453.4 1811.2,2453 1813.2,2452.7 1815.1,2452.4 1817.1,2452 1819.1,2451.7 1821.1,2451.4 1823,2451.1 1825,2450.8 1827,2450.6 1829,2450.3 1831,2450.1 1832.9,2449.8 1834.9,2449.6 1836.9,2449.4 1838.9,2449.2 1840.7,2449.1 1840.9,2449.1 1842.9,2448.9 1844.9,2448.8 1846.9,2448.7 1848.9,2448.5 1850.8,2448.4 1852.8,2448.3 1854.8,2448.2 1856.8,2448.1 1858.8,2448 1860.8,2447.9 1862.8,2447.8 1864.8,2447.7 1866.8,2447.6 1868.8,2447.5 1870.8,2447.4 1872.8,2447.3 1874.8,2447.3 1876.8,2447.2 1878.8,2447.1 1880.8,2447 1882.8,2446.9 1884.8,2446.8 1885.4,2446.8 1886.8,2446.7 1888.8,2446.6 1890.8,2446.5 1892.8,2446.4 1894.8,2446.3 1896.8,2446.2 1898.8,2446.1 1900.9,2446 1902.9,2445.9 1904.9,2445.8 1906.9,2445.7 1908.9,2445.7 1910.8,2445.6 1912.8,2445.5 1914.8,2445.5 1916.8,2445.5 1917.5,2445.5 1918.8,2445.5 1920.8,2445.7 1922.9,2446.1 1924.9,2446.5 1926.8,2447.1 1928.7,2447.7 1930,2448.2 1930.4,2448.4 1932,2449.4 1933.5,2450.7 1935,2452.2 1936.3,2453.9" stroke="#0000a8" stroke-width="6" fill="none" stroke-linejoin="round"/>
<g fill="#7b8cff" fill-opacity="0.6"><circle cx="211" cy="2787.3" r="5.2"/><circle cx="218.6" cy="2804.5" r="5.2"/><circle cx="224.4" cy="2822.1" r="5.2"/><circle cx="230.1" cy="2839.7" r="5.2"/><circle cx="238" cy="2854.6" r="5.2"/><circle cx="250.2" cy="2867.1" r="5.2"/><circle cx="265.7" cy="2869.6" r="5.2"/><circle cx="278.5" cy="2853.7" r="5.2"/><circle cx="286.8" cy="2836.5" r="5.2"/><circle cx="293.3" cy="2819.2" r="5.2"/><circle cx="299" cy="2801.1" r="5.2"/><circle cx="304.4" cy="2783.5" r="5.2"/><circle cx="310.5" cy="2765.7" r="5.2"/><circle cx="316.2" cy="2748.1" r="5.2"/><circle cx="323.1" cy="2730.3" r="5.2"/><circle cx="330.2" cy="2713.4" r="5.2"/><circle cx="337.8" cy="2696.8" r="5.2"/><circle cx="347" cy="2680.9" r="5.2"/><circle cx="357.9" cy="2665.8" r="5.2"/><circle cx="372.3" cy="2653.4" r="5.2"/><circle cx="385.1" cy="2641.3" r="5.2"/><circle cx="397.7" cy="2626.4" r="5.2"/><circle cx="408.6" cy="2611.1" r="5.2"/><circle cx="419.2" cy="2595" r="5.2"/><circle cx="429.7" cy="2579.1" r="5.2"/><circle cx="440.2" cy="2563.8" r="5.2"/><circle cx="450.2" cy="2550" r="5.2"/><circle cx="463.5" cy="2535.2" r="5.2"/><circle cx="477.8" cy="2521.9" r="5.2"/><circle cx="494.1" cy="2510.2" r="5.2"/><circle cx="511.9" cy="2501.5" r="5.2"/><circle cx="530.1" cy="2495.9" r="5.2"/><circle cx="549.2" cy="2493.6" r="5.2"/><circle cx="568.1" cy="2492.3" r="5.2"/><circle cx="586.7" cy="2492.3" r="5.2"/><circle cx="605.3" cy="2491.1" r="5.2"/><circle cx="624.2" cy="2489.8" r="5.2"/><circle cx="642.8" cy="2487.5" r="5.2"/><circle cx="661.4" cy="2485.5" r="5.2"/><circle cx="680.3" cy="2484.2" r="5.2"/><circle cx="698.9" cy="2484.2" r="5.2"/><circle cx="718.1" cy="2484.7" r="5.2"/><circle cx="736.7" cy="2486.7" r="5.2"/><circle cx="755" cy="2488" r="5.2"/><circle cx="773.7" cy="2488.5" r="5.2"/><circle cx="792.6" cy="2487.2" r="5.2"/><circle cx="811.2" cy="2485.5" r="5.2"/><circle cx="826.5" cy="2490.6" r="5.2"/><circle cx="840.2" cy="2505.9" r="5.2"/><circle cx="849.5" cy="2522.8" r="5.2"/><circle cx="858.1" cy="2539.7" r="5.2"/><circle cx="866.1" cy="2557.3" r="5.2"/><circle cx="874.7" cy="2574.2" r="5.2"/><circle cx="884.3" cy="2588.8" r="5.2"/><circle cx="900.4" cy="2592.5" r="5.2"/><circle cx="912" cy="2575.9" r="5.2"/><circle cx="919.5" cy="2559" r="5.2"/><circle cx="927" cy="2541.6" r="5.2"/><circle cx="934.1" cy="2524.1" r="5.2"/><circle cx="941.1" cy="2506.6" r="5.2"/><circle cx="949" cy="2489.7" r="5.2"/><circle cx="959.3" cy="2473.9" r="5.2"/><circle cx="975.9" cy="2460.3" r="5.2"/><circle cx="994.9" cy="2459.8" r="5.2"/><circle cx="1013.7" cy="2460.6" r="5.2"/><circle cx="1032.3" cy="2462.3" r="5.2"/><circle cx="1050.8" cy="2463.9" r="5.2"/><circle cx="1069.2" cy="2466.1" r="5.2"/><circle cx="1088.6" cy="2467.9" r="5.2"/><circle cx="1107" cy="2470.4" r="5.2"/><circle cx="1125.7" cy="2472.3" r="5.2"/><circle cx="1144.3" cy="2475.9" r="5.2"/><circle cx="1163" cy="2478.2" r="5.2"/><circle cx="1181.8" cy="2482.5" r="5.2"/><circle cx="1199.6" cy="2487.5" r="5.2"/><circle cx="1217.5" cy="2492.9" r="5.2"/><circle cx="1235.9" cy="2498.6" r="5.2"/><circle cx="1254.6" cy="2500.7" r="5.2"/><circle cx="1273" cy="2498.2" r="5.2"/><circle cx="1290.7" cy="2492.3" r="5.2"/><circle cx="1307" cy="2482.9" r="5.2"/><circle cx="1324.3" cy="2473.6" r="5.2"/><circle cx="1341.4" cy="2465.7" r="5.2"/><circle cx="1358.2" cy="2460.1" r="5.2"/><circle cx="1376.5" cy="2455.9" r="5.2"/><circle cx="1395.3" cy="2453.6" r="5.2"/><circle cx="1413.8" cy="2452.5" r="5.2"/><circle cx="1432.6" cy="2451.7" r="5.2"/><circle cx="1451.7" cy="2449.7" r="5.2"/><circle cx="1470.5" cy="2447.5" r="5.2"/><circle cx="1488.7" cy="2446" r="5.2"/><circle cx="1507.5" cy="2445.5" r="5.2"/><circle cx="1526.6" cy="2444.6" r="5.2"/><circle cx="1545.4" cy="2444.6" r="5.2"/><circle cx="1563.9" cy="2444.6" r="5.2"/><circle cx="1582.7" cy="2444.6" r="5.2"/><circle cx="1601.8" cy="2443.2" r="5.2"/><circle cx="1620" cy="2442.4" r="5.2"/><circle cx="1638.8" cy="2441.3" r="5.2"/><circle cx="1657.9" cy="2440.4" r="5.2"/><circle cx="1676.7" cy="2440.4" r="5.2"/><circle cx="1695.7" cy="2440.2" r="5.2"/><circle cx="1714.5" cy="2438.4" r="5.2"/><circle cx="1733" cy="2436.6" r="5.2"/><circle cx="1752" cy="2435.7" r="5.2"/><circle cx="1770.7" cy="2435.2" r="5.2"/><circle cx="1789.3" cy="2435.2" r="5.2"/><circle cx="1808" cy="2435.2" r="5.2"/><circle cx="1827" cy="2436.6" r="5.2"/><circle cx="1845.7" cy="2436.6" r="5.2"/><circle cx="1864.8" cy="2437.5" r="5.2"/><circle cx="1883.2" cy="2438" r="5.2"/><circle cx="1901.4" cy="2438.4" r="5.2"/><circle cx="1920.2" cy="2435.4" r="5.2"/><circle cx="1933.6" cy="2425.9" r="5.2"/><circle cx="238" cy="2854.6" r="5.2"/><circle cx="372.3" cy="2653.4" r="5.2"/><circle cx="397.7" cy="2626.4" r="5.2"/><circle cx="568.1" cy="2492.3" r="5.2"/><circle cx="624.2" cy="2489.8" r="5.2"/><circle cx="680.3" cy="2484.2" r="5.2"/><circle cx="736.7" cy="2486.7" r="5.2"/><circle cx="840.2" cy="2505.9" r="5.2"/><circle cx="874.7" cy="2574.2" r="5.2"/><circle cx="1032.3" cy="2462.3" r="5.2"/><circle cx="1088.6" cy="2467.9" r="5.2"/><circle cx="1163" cy="2478.2" r="5.2"/><circle cx="1217.5" cy="2492.9" r="5.2"/><circle cx="1432.6" cy="2451.7" r="5.2"/><circle cx="1601.8" cy="2443.2" r="5.2"/><circle cx="1657.9" cy="2440.4" r="5.2"/><circle cx="1714.5" cy="2438.4" r="5.2"/><circle cx="1864.8" cy="2437.5" r="5.2"/><circle cx="1883.2" cy="2438" r="5.2"/></g>
<path d="M184,1752.5 186,1754.5 188,1756.5 190,1758.4 192,1760.3 194,1762.2 196,1764.1 198,1766 200,1767.9 202,1769.8 204,1771.7 206,1773.6 208,1775.5 210,1777.4 212,1779.4 214,1781.3 216,1783.3 218,1785.3 220,1787.3 222,1789.3 224,1791.4 226,1793.6 228,1795.7 230,1797.9 232,1800.2 234,1802.5 236,1804.8 238,1807.3 240,1809.7 242,1812.3 244,1814.9 246,1817.6 248,1820.3 250,1823.1 252,1826 254,1829 256,1832.1 258,1835.2 260,1838.4 262,1841.7 264,1845 266,1848.4 268,1851.8 270,1855.2 272,1858.6 274,1862 276,1865.5 278,1868.9 280,1872.3 282,1875.7 284,1879.1 286,1882.4 288,1885.6 290,1888.8 292,1892 294,1895.1 296,1898.2 298,1901.3 300,1904.3 302,1907.2 304,1910.1 306,1913 308,1915.8 310,1918.6 312,1921.4 314,1924.1 316,1926.8 318,1929.5 320,1932.1 322,1934.7 324,1937.2 326,1939.7 328,1942.2 330,1944.7 332,1947.1 334,1949.6 336,1951.9 338,1954.3 340,1956.6 342,1958.9 344,1961.2 346,1963.5 348,1965.7 350,1967.9 352,1970.1 354,1972.3 356,1974.4 358,1976.5 360,1978.6 362,1980.7 364,1982.7 366,1984.7 368,1986.7 370,1988.7 372,1990.6 374,1992.5 376,1994.4 378,1996.3 380,1998.2 382,2000 384,2001.8 386,2003.6 388,2005.3 390,2007 392,2008.7 394,2010.4 396,2012.1 398,2013.7 400,2015.3 402,2016.9 404,2018.4 406,2020 408,2021.5 410,2023 412,2024.4 414,2025.9 416,2027.3 418,2028.7 420,2030.1 422,2031.4 424,2032.7 426,2034 428,2035.3 430,2036.6 432,2037.8 434,2039.1 436,2040.3 438,2041.5 440,2042.6 442,2043.8 444,2044.9 446,2046.1 448,2047.2 450,2048.3 452,2049.4 454,2050.4 456,2051.5 458,2052.5 460,2053.5 462,2054.6 464,2055.6 466,2056.6 468,2057.5 470,2058.5 472,2059.5 474,2060.4 476,2061.4 478,2062.3 480,2063.2 482,2064.2 484,2065.1 486,2066 488,2066.9 490,2067.8 492,2068.6 494,2069.5 496,2070.4 498,2071.2 500,2072.1 502,2072.9 504,2073.8 506,2074.6 508,2075.4 510,2076.2 512,2077 514,2077.8 516,2078.6 518,2079.4 520,2080.2 522,2081 524,2081.8 526,2082.5 528,2083.3 530,2084 532,2084.8 534,2085.5 536,2086.3 538,2087 540,2087.7 542,2088.4 544,2089.1 546,2089.8 548,2090.5 550,2091.2 552,2091.9 554,2092.6 556,2093.3 558,2094 560,2094.6 562,2095.3 564,2096 566,2096.6 568,2097.3 570,2097.9 572,2098.6 574,2099.2 576,2099.9 578,2100.5 580,2101.1 582,2101.7 584,2102.4 586,2103 588,2103.6 590,2104.2 592,2104.8 594,2105.4 596,2106 598,2106.6 600,2107.2 602,2107.8 604,2108.4 606,2108.9 608,2109.5 610,2110.1 612,2110.7 614,2111.2 616,2111.8 618,2112.4 620,2113 622,2113.5 624,2114.1 626,2114.6 628,2115.2 630,2115.7 632,2116.3 634,2116.8 636,2117.4 638,2117.9 640,2118.5 642,2119 644,2119.6 646,2120.1 648,2120.7 650,2121.2 652,2121.7 654,2122.3 656,2122.8 658,2123.4 660,2123.9 662,2124.4 664,2125 666,2125.5 668,2126 670,2126.6 672,2127.1 674,2127.6 676,2128.2 678,2128.7 680,2129.2 682,2129.8 684,2130.3 686,2130.8 688,2131.4 690,2131.9 692,2132.5 694,2133 696,2133.5 698,2134.1 700,2134.6 702,2135.2 704,2135.7 706,2136.2 708,2136.8 710,2137.3 712,2137.9 714,2138.4 716,2139 718,2139.5 720,2140.1 722,2140.6 724,2141.2 726,2141.8 728,2142.3 730,2142.9 732,2143.5 734,2144 736,2144.6 738,2145.2 740,2145.8 742,2146.3 744,2146.9 746,2147.5 748,2148.1 750,2148.7 752,2149.3 754,2149.9 756,2150.5 758,2151.1 760,2151.7 762,2152.3 764,2152.9 766,2153.6 768,2154.2 770,2154.8 772,2155.4 774,2156.1 776,2156.7 778,2157.4 780,2158 782,2158.7 784,2159.3 786,2160 788,2160.6 790,2161.3 792,2162 794,2162.7 796,2163.4 798,2164.1 800,2164.8 802,2165.5 804,2166.2 806,2166.9 808,2167.6 810,2168.3 812,2169.1 814,2169.8 816,2170.6 818,2171.3 820,2172.1 822,2172.9 824,2173.7 826,2174.6 828,2175.4 830,2176.2 832,2177.1 834,2178 836,2178.9 838,2179.8 840,2180.7 842,2181.7 844,2182.7 846,2183.7 848,2184.7 850,2185.7 852,2186.8 854,2187.9 856,2189 858,2190.1 860,2191.3 862,2192.5 864,2193.7 866,2195 868,2196.2 870,2197.5 872,2198.9 874,2200.2 876,2201.6 878,2203 880,2204.5 882,2206 884,2207.5 886,2209.1 888,2210.7 890,2212.3 892,2213.9 894,2215.6 896,2217.2 898,2218.9 900,2220.6 902,2222.3 904,2224 906,2225.6 908,2227.3 910,2228.9 912,2230.5 914,2232.1 916,2233.6 918,2235.1 920,2236.5 922,2237.9 924,2239.3 926,2240.5 928,2241.7 930,2242.9 932,2243.9 934,2244.9 936,2245.8 938,2246.7 940,2247.5 942,2248.2 944,2248.8 946,2249.4 948,2250 950,2250.5 952,2251 954,2251.5 956,2251.9 958,2252.3 960,2252.7 962,2253.2 964,2253.5 966,2253.9 968,2254.3 970,2254.7 972,2255 974,2255.4 976,2255.7 978,2256 980,2256.4 982,2256.7 984,2257 986,2257.3 988,2257.6 990,2257.9 992,2258.1 994,2258.4 996,2258.7 998,2258.9 1000,2259.2 1002,2259.4 1004,2259.7 1006,2259.9 1008,2260.1 1010,2260.4 1012,2260.6 1014,2260.8 1016,2261 1018,2261.2 1020,2261.4 1022,2261.6 1024,2261.8 1026,2262 1028,2262.2 1030,2262.4 1032,2262.6 1034,2262.8 1036,2263 1038,2263.1 1040,2263.3 1042,2263.5 1044,2263.7 1046,2263.9 1048,2264 1050,2264.2 1052,2264.4 1054,2264.6 1056,2264.7 1058,2264.9 1060,2265.1 1062,2265.3 1064,2265.4 1066,2265.6 1068,2265.8 1070,2266 1072,2266.2 1074,2266.4 1076,2266.5 1078,2266.7 1080,2266.9 1082,2267.1 1084,2267.3 1086,2267.5 1088,2267.7 1090,2267.9 1092,2268.2 1094,2268.4 1096,2268.6 1098,2268.8 1100,2269 1102,2269.2 1104,2269.5 1106,2269.7 1108,2269.9 1110,2270.1 1112,2270.4 1114,2270.6 1116,2270.9 1118,2271.1 1120,2271.3 1122,2271.6 1124,2271.8 1126,2272.1 1128,2272.3 1130,2272.6 1132,2272.8 1134,2273.1 1136,2273.4 1138,2273.6 1140,2273.9 1142,2274.2 1144,2274.4 1146,2274.7 1148,2275 1150,2275.3 1152,2275.6 1154,2275.8 1156,2276.1 1158,2276.4 1160,2276.7 1162,2277 1164,2277.3 1166,2277.6 1168,2277.9 1170,2278.2 1172,2278.5 1174,2278.8 1176,2279.1 1178,2279.4 1180,2279.7 1182,2280.1 1184,2280.4 1186,2280.7 1188,2281 1190,2281.3 1192,2281.7 1194,2282 1196,2282.3 1198,2282.7 1200,2283 1202,2283.4 1204,2283.7 1206,2284 1208,2284.4 1210,2284.7 1212,2285.1 1214,2285.4 1216,2285.8 1218,2286.2 1220,2286.5 1222,2286.9 1224,2287.3 1226,2287.6 1228,2288 1230,2288.4 1232,2288.7 1234,2289.1 1236,2289.5 1238,2289.9 1240,2290.3 1242,2290.6 1244,2291 1246,2291.4 1248,2291.8 1250,2292.2 1252,2292.6 1254,2293 1256,2293.4 1258,2293.8 1260,2294.2 1262,2294.6 1264,2295 1266,2295.4 1268,2295.8 1270,2296.2 1272,2296.6 1274,2297 1276,2297.4 1278,2297.8 1280,2298.2 1282,2298.6 1284,2299 1286,2299.4 1288,2299.8 1290,2300.2 1292,2300.5 1294,2300.9 1296,2301.3 1298,2301.7 1300,2302.1 1302,2302.5 1304,2302.9 1306,2303.2 1308,2303.6 1310,2304 1312,2304.4 1314,2304.7 1316,2305.1 1318,2305.5 1320,2305.8 1322,2306.2 1324,2306.6 1326,2306.9 1328,2307.3 1330,2307.6 1332,2307.9 1334,2308.3 1336,2308.6 1338,2309 1340,2309.3 1342,2309.6 1344,2309.9 1346,2310.2 1348,2310.5 1350,2310.8 1352,2311.1 1354,2311.4 1356,2311.7 1358,2312 1360,2312.3 1362,2312.6 1364,2312.8 1366,2313.1 1368,2313.4 1370,2313.7 1372,2313.9 1374,2314.2 1376,2314.4 1378,2314.7 1380,2314.9 1382,2315.2 1384,2315.4 1386,2315.6 1388,2315.9 1390,2316.1 1392,2316.3 1394,2316.5 1396,2316.8 1398,2317 1400,2317.2 1402,2317.4 1404,2317.6 1406,2317.8 1408,2318 1410,2318.2 1412,2318.4 1414,2318.6 1416,2318.8 1418,2319 1420,2319.2 1422,2319.4 1424,2319.6 1426,2319.8 1428,2320 1430,2320.1 1432,2320.3 1434,2320.5 1436,2320.7 1438,2320.8 1440,2321 1442,2321.2 1444,2321.4 1446,2321.5 1448,2321.7 1450,2321.9 1452,2322 1454,2322.2 1456,2322.4 1458,2322.5 1460,2322.7 1462,2322.9 1464,2323 1466,2323.2 1468,2323.4 1470,2323.5 1472,2323.7 1474,2323.8 1476,2324 1478,2324.2 1480,2324.3 1482,2324.5 1484,2324.7 1486,2324.8 1488,2325 1490,2325.1 1492,2325.3 1494,2325.5 1496,2325.6 1498,2325.8 1500,2326 1502,2326.1 1504,2326.3 1506,2326.5 1508,2326.6 1510,2326.8 1512,2327 1514,2327.1 1516,2327.3 1518,2327.5 1520,2327.7 1522,2327.9 1524,2328 1526,2328.2 1528,2328.4 1530,2328.6 1532,2328.8 1534,2329 1536,2329.1 1538,2329.3 1540,2329.5 1542,2329.7 1544,2329.9 1546,2330.1 1548,2330.3 1550,2330.5 1552,2330.7 1554,2330.9 1556,2331.2 1558,2331.4 1560,2331.6 1562,2331.8 1564,2332 1566,2332.2 1568,2332.5 1570,2332.7 1572,2332.9 1574,2333.1 1576,2333.4 1578,2333.6 1580,2333.8 1582,2334 1584,2334.3 1586,2334.5 1588,2334.8 1590,2335 1592,2335.2 1594,2335.5 1596,2335.7 1598,2336 1600,2336.2 1602,2336.5 1604,2336.7 1606,2337 1608,2337.2 1610,2337.5 1612,2337.7 1614,2338 1616,2338.2 1618,2338.5 1620,2338.8 1622,2339 1624,2339.3 1626,2339.5 1628,2339.8 1630,2340.1 1632,2340.3 1634,2340.6 1636,2340.9 1638,2341.1 1640,2341.4 1642,2341.7 1644,2341.9 1646,2342.2 1648,2342.5 1650,2342.8 1652,2343 1654,2343.3 1656,2343.6 1658,2343.9 1660,2344.1 1662,2344.4 1664,2344.7 1666,2345 1668,2345.2 1670,2345.5 1672,2345.8 1674,2346.1 1676,2346.4 1678,2346.6 1680,2346.9 1682,2347.2 1684,2347.5 1686,2347.8 1688,2348 1690,2348.3 1692,2348.6 1694,2348.9 1696,2349.2 1698,2349.4 1700,2349.7 1702,2350 1704,2350.3 1706,2350.6 1708,2350.8 1710,2351.1 1712,2351.4 1714,2351.7 1716,2352 1718,2352.3 1720,2352.5 1722,2352.8 1724,2353.1 1726,2353.4 1728,2353.7 1730,2353.9 1732,2354.2 1734,2354.5 1736,2354.8 1738,2355.1 1740,2355.3 1742,2355.6 1744,2355.9 1746,2356.2 1748,2356.4 1750,2356.7 1752,2357 1754,2357.3 1756,2357.5 1758,2357.8 1760,2358.1 1762,2358.3 1764,2358.6 1766,2358.9 1768,2359.1 1770,2359.4 1772,2359.7 1774,2359.9 1776,2360.2 1778,2360.5 1780,2360.7 1782,2361 1784,2361.2 1786,2361.5 1788,2361.8 1790,2362 1792,2362.3 1794,2362.5 1796,2362.8 1798,2363 1800,2363.3 1802,2363.5 1804,2363.8 1806,2364 1808,2364.3 1810,2364.5 1812,2364.8 1814,2365 1816,2365.2 1818,2365.5 1820,2365.7 1822,2365.9 1824,2366.2 1826,2366.4 1828,2366.6 1830,2366.9 1832,2367.1 1834,2367.3 1836,2367.5 1838,2367.8 1840,2368 1842,2368.2 1844,2368.4 1846,2368.6 1848,2368.8 1850,2369 1852,2369.3 1854,2369.5 1856,2369.7 1858,2369.9 1860,2370.1 1862,2370.3 1864,2370.5 1866,2370.6 1868,2370.8 1870,2371 1872,2371.2 1874,2371.4 1876,2371.6 1878,2371.8 1880,2371.9 1882,2372.1 1884,2372.3 1886,2372.5 1888,2372.6 1890,2372.8 1892,2372.9 1894,2373.1 1896,2373.3 1898,2373.4 1900,2373.6 1902,2373.7 1904,2373.9 1906,2374 1908,2374.2 1910,2374.3 1912,2374.4 1914,2374.6 1916,2374.7 1918,2374.8 1920,2374.9 1922,2375.1 1924,2375.2 1926,2375.3 1928,2375.4 1930,2375.5 1932,2375.6 1934,2375.7 1936,2375.8 1938,2375.9" stroke="#000" stroke-width="6.4" fill="none" stroke-linejoin="round"/>
<path d="M188.5,1736 188.5,1738 188.5,1739.9 188.5,1741.9 188.5,1743.8 188.5,1745.8 188.5,1747.8 188.5,1749.7 188.5,1751.7 188.5,1752 188.5,1753.7 188.5,1755.6 188.5,1757.6 188.5,1759.5 188.5,1761.5 188.5,1763.5 188.5,1765.4 188.5,1766 188.5,1767.4 188.6,1769.4 188.7,1771.4 188.9,1773.4 189.1,1775.3 189.3,1777.2 189.5,1778.5 189.6,1779.1 190.1,1780.9 190.8,1782.6 191.8,1784.3 192.9,1786 194.1,1787.7 195.3,1789.4 196.5,1791 197.5,1792.5 197.6,1792.6 198.7,1794.3 199.8,1795.8 201,1797.4 202.2,1799 203.4,1800.5 204.7,1802 206,1803.5 208,1805.5 210,1807.6 212,1809.8 214,1812 216,1814.4 218,1816.8 220,1819.4 222,1821.9 224,1824.6 226,1827.3 228,1830.1 230,1832.9 232,1835.8 234,1838.8 236,1841.8 238,1844.8 240,1847.9 242,1851 244,1854.2 246,1857.4 248,1860.6 250,1863.8 252,1867 254,1870.3 256,1873.6 258,1876.9 260,1880.1 262,1883.4 264,1886.7 266,1890 268,1893.2 270,1896.5 272,1899.7 274,1902.9 276,1906.1 278,1909.3 280,1912.5 282,1915.6 284,1918.7 286,1921.8 288,1924.9 290,1927.9 292,1930.9 294,1933.8 296,1936.8 298,1939.7 300,1942.5 302,1945.3 304,1948.1 306,1950.8 308,1953.5 310,1956.1 312,1958.7 314,1961.3 316,1963.8 318,1966.2 320,1968.6 322,1971 324,1973.3 326,1975.6 328,1977.8 330,1980 332,1982.2 334,1984.3 336,1986.4 338,1988.5 340,1990.5 342,1992.5 344,1994.5 346,1996.5 348,1998.5 350,2000.4 352,2002.3 354,2004.2 356,2006 358,2007.9 360,2009.7 362,2011.5 364,2013.2 366,2015 368,2016.7 370,2018.4 372,2020.1 374,2021.7 376,2023.3 378,2025 380,2026.6 382,2028.1 384,2029.7 386,2031.2 388,2032.7 390,2034.2 392,2035.7 394,2037.1 396,2038.5 398,2039.9 400,2041.3 402,2042.7 404,2044.1 406,2045.4 408,2046.7 410,2048 412,2049.3 414,2050.5 416,2051.8 418,2053 420,2054.2 422,2055.4 424,2056.6 426,2057.7 428,2058.8 430,2060 432,2061.1 434,2062.1 436,2063.2 438,2064.3 440,2065.3 442,2066.3 444,2067.3 446,2068.3 448,2069.3 450,2070.3 452,2071.2 454,2072.1 456,2073.1 458,2074 460,2074.8 462,2075.7 464,2076.6 466,2077.4 468,2078.3 470,2079.1 472,2079.9 474,2080.7 476,2081.5 478,2082.3 480,2083 482,2083.8 484,2084.5 486,2085.2 488,2086 490,2086.7 492,2087.4 494,2088.1 496,2088.7 498,2089.4 500,2090.1 502,2090.7 504,2091.4 506,2092 508,2092.6 510,2093.2 512,2093.9 514,2094.5 516,2095.1 518,2095.6 520,2096.2 522,2096.8 524,2097.4 526,2097.9 528,2098.5 530,2099 532,2099.6 534,2100.1 536,2100.7 538,2101.2 540,2101.7 542,2102.2 544,2102.7 546,2103.3 548,2103.8 550,2104.3 552,2104.8 554,2105.3 556,2105.8 558,2106.3 560,2106.8 562,2107.3 564,2107.7 566,2108.2 568,2108.7 570,2109.2 572,2109.7 574,2110.2 576,2110.6 578,2111.1 580,2111.6 582,2112.1 584,2112.5 586,2113 588,2113.5 590,2114 592,2114.4 594,2114.9 596,2115.4 598,2115.8 600,2116.3 602,2116.8 604,2117.3 606,2117.7 608,2118.2 610,2118.6 612,2119.1 614,2119.6 616,2120 618,2120.5 620,2121 622,2121.4 624,2121.9 626,2122.3 628,2122.8 630,2123.2 632,2123.7 634,2124.2 636,2124.6 638,2125.1 640,2125.5 642,2126 644,2126.4 646,2126.9 648,2127.3 650,2127.8 652,2128.2 654,2128.7 656,2129.1 658,2129.6 660,2130 662,2130.5 664,2130.9 666,2131.4 668,2131.8 670,2132.3 672,2132.7 674,2133.2 676,2133.6 678,2134.1 680,2134.5 682,2135 684,2135.4 686,2135.9 688,2136.3 690,2136.8 692,2137.2 694,2137.6 696,2138.1 698,2138.5 700,2139 702,2139.4 704,2139.9 706,2140.3 708,2140.8 710,2141.2 712,2141.7 714,2142.1 716,2142.6 718,2143 720,2143.5 722,2143.9 724,2144.4 726,2144.8 728,2145.3 730,2145.7 732,2146.2 734,2146.6 736,2147.1 738,2147.5 740,2148 742,2148.4 744,2148.9 746,2149.4 748,2149.8 750,2150.3 752,2150.7 754,2151.2 756,2151.6 758,2152.1 760,2152.6 762,2153 764,2153.5 766,2153.9 768,2154.4 770,2154.9 772,2155.3 774,2155.8 776,2156.3 778,2156.7 780,2157.2 782,2157.7 784,2158.1 786,2158.6 788,2159.1 790,2159.5 792,2160 794,2160.5 796,2161 798,2161.4 800,2161.9 802,2162.4 804,2162.9 806,2163.3 808,2163.8 810,2164.3 812,2164.8 814,2165.3 816,2165.8 818,2166.3 820,2166.7 822,2167.2 824,2167.7 826,2168.2 828,2168.7 830,2169.2 832,2169.8 834,2170.3 836,2170.9 838,2171.4 840,2172 842,2172.6 844,2173.3 846,2173.9 848,2174.6 850,2175.4 852,2176.1 854,2176.9 856,2177.7 858,2178.6 860,2179.5 862,2180.4 864,2181.3 866,2182.3 868,2183.3 870,2184.4 872,2185.5 874,2186.5 876,2187.7 878,2188.8 880,2189.9 882,2191.1 884,2192.3 886,2193.5 888,2194.7 890,2195.9 892,2197.1 894,2198.3 896,2199.5 898,2200.7 900,2202 902,2203.2 904,2204.4 906,2205.6 908,2206.8 910,2207.9 912,2209.1 914,2210.2 916,2211.4 918,2212.4 920,2213.5 922,2214.6 924,2215.6 926,2216.6 928,2217.5 930,2218.4 932,2219.3 934,2220.2 936,2221 938,2221.7 940,2222.4 942,2223.1 944,2223.8 946,2224.4 948,2225 950,2225.6 952,2226.1 954,2226.6 956,2227.1 958,2227.6 960,2228 962,2228.4 964,2228.8 966,2229.2 968,2229.5 970,2229.8 972,2230.1 974,2230.4 976,2230.7 978,2231 980,2231.2 982,2231.5 984,2231.7 986,2231.9 988,2232.1 990,2232.3 992,2232.5 994,2232.7 996,2232.9 998,2233.1 1000,2233.2 1002,2233.4 1004,2233.6 1006,2233.8 1008,2233.9 1010,2234.1 1012,2234.3 1014,2234.5 1016,2234.7 1018,2234.9 1020,2235.1 1022,2235.4 1024,2235.6 1026,2235.8 1028,2236.1 1030,2236.3 1032,2236.6 1034,2236.9 1036,2237.1 1038,2237.4 1040,2237.7 1042,2238 1044,2238.3 1046,2238.5 1048,2238.8 1050,2239.1 1052,2239.4 1054,2239.7 1056,2240 1058,2240.3 1060,2240.6 1062,2240.9 1064,2241.2 1066,2241.5 1068,2241.8 1070,2242.1 1072,2242.4 1074,2242.7 1076,2243 1078,2243.3 1080,2243.6 1082,2243.9 1084,2244.2 1086,2244.5 1088,2244.8 1090,2245.1 1092,2245.4 1094,2245.7 1096,2246 1098,2246.3 1100,2246.6 1102,2246.9 1104,2247.3 1106,2247.6 1108,2247.9 1110,2248.2 1112,2248.6 1114,2248.9 1116,2249.2 1118,2249.6 1120,2249.9 1122,2250.2 1124,2250.6 1126,2250.9 1128,2251.3 1130,2251.6 1132,2252 1134,2252.4 1136,2252.7 1138,2253.1 1140,2253.5 1142,2253.9 1144,2254.3 1146,2254.6 1148,2255 1150,2255.4 1152,2255.9 1154,2256.3 1156,2256.7 1158,2257.1 1160,2257.5 1162,2258 1164,2258.4 1166,2258.8 1168,2259.3 1170,2259.7 1172,2260.2 1174,2260.7 1176,2261.2 1178,2261.6 1180,2262.1 1182,2262.6 1184,2263.1 1186,2263.6 1188,2264.1 1190,2264.6 1192,2265.1 1194,2265.6 1196,2266.2 1198,2266.7 1200,2267.2 1202,2267.7 1204,2268.3 1206,2268.8 1208,2269.3 1210,2269.9 1212,2270.4 1214,2271 1216,2271.5 1218,2272 1220,2272.6 1222,2273.1 1224,2273.7 1226,2274.2 1228,2274.8 1230,2275.3 1232,2275.8 1234,2276.4 1236,2276.9 1238,2277.5 1240,2278 1242,2278.5 1244,2279.1 1246,2279.6 1248,2280.1 1250,2280.7 1252,2281.2 1254,2281.7 1256,2282.2 1258,2282.7 1260,2283.2 1262,2283.7 1264,2284.2 1266,2284.7 1268,2285.2 1270,2285.7 1272,2286.2 1274,2286.7 1276,2287.1 1278,2287.6 1280,2288.1 1282,2288.5 1284,2289 1286,2289.4 1288,2289.8 1290,2290.3 1292,2290.7 1294,2291.1 1296,2291.5 1298,2292 1300,2292.4 1302,2292.8 1304,2293.2 1306,2293.6 1308,2294 1310,2294.4 1312,2294.7 1314,2295.1 1316,2295.5 1318,2295.9 1320,2296.2 1322,2296.6 1324,2297 1326,2297.3 1328,2297.7 1330,2298 1332,2298.3 1334,2298.7 1336,2299 1338,2299.3 1340,2299.7 1342,2300 1344,2300.3 1346,2300.6 1348,2300.9 1350,2301.3 1352,2301.6 1354,2301.9 1356,2302.2 1358,2302.5 1360,2302.8 1362,2303 1364,2303.3 1366,2303.6 1368,2303.9 1370,2304.2 1372,2304.4 1374,2304.7 1376,2305 1378,2305.2 1380,2305.5 1382,2305.8 1384,2306 1386,2306.3 1388,2306.5 1390,2306.8 1392,2307 1394,2307.3 1396,2307.5 1398,2307.7 1400,2308 1402,2308.2 1404,2308.4 1406,2308.7 1408,2308.9 1410,2309.1 1412,2309.3 1414,2309.6 1416,2309.8 1418,2310 1420,2310.2 1422,2310.4 1424,2310.6 1426,2310.8 1428,2311.1 1430,2311.3 1432,2311.5 1434,2311.7 1436,2311.9 1438,2312.1 1440,2312.3 1442,2312.5 1444,2312.7 1446,2312.9 1448,2313 1450,2313.2 1452,2313.4 1454,2313.6 1456,2313.8 1458,2314 1460,2314.2 1462,2314.4 1464,2314.5 1466,2314.7 1468,2314.9 1470,2315.1 1472,2315.3 1474,2315.4 1476,2315.6 1478,2315.8 1480,2316 1482,2316.2 1484,2316.3 1486,2316.5 1488,2316.7 1490,2316.8 1492,2317 1494,2317.2 1496,2317.4 1498,2317.5 1500,2317.7 1502,2317.9 1504,2318 1506,2318.2 1508,2318.4 1510,2318.5 1512,2318.7 1514,2318.8 1516,2319 1518,2319.2 1520,2319.3 1522,2319.5 1524,2319.6 1526,2319.8 1528,2319.9 1530,2320.1 1532,2320.3 1534,2320.4 1536,2320.6 1538,2320.7 1540,2320.9 1542,2321 1544,2321.2 1546,2321.3 1548,2321.5 1550,2321.6 1552,2321.8 1554,2321.9 1556,2322 1558,2322.2 1560,2322.3 1562,2322.5 1564,2322.6 1566,2322.8 1568,2322.9 1570,2323 1572,2323.2 1574,2323.3 1576,2323.5 1578,2323.6 1580,2323.7 1582,2323.9 1584,2324 1586,2324.1 1588,2324.3 1590,2324.4 1592,2324.5 1594,2324.7 1596,2324.8 1598,2324.9 1600,2325.1 1602,2325.2 1604,2325.3 1606,2325.4 1608,2325.6 1610,2325.7 1612,2325.8 1614,2325.9 1616,2326.1 1618,2326.2 1620,2326.3 1622,2326.4 1624,2326.6 1626,2326.7 1628,2326.8 1630,2326.9 1632,2327 1634,2327.2 1636,2327.3 1638,2327.4 1640,2327.5 1642,2327.6 1644,2327.7 1646,2327.9 1648,2328 1650,2328.1 1652,2328.2 1654,2328.3 1656,2328.4 1658,2328.6 1660,2328.7 1662,2328.8 1664,2328.9 1666,2329 1668,2329.1 1670,2329.2 1672,2329.3 1674,2329.4 1676,2329.5 1678,2329.7 1680,2329.8 1682,2329.9 1684,2330 1686,2330.1 1688,2330.2 1690,2330.3 1692,2330.4 1694,2330.5 1696,2330.6 1698,2330.7 1700,2330.8 1702,2330.9 1704,2331 1706,2331.1 1708,2331.2 1710,2331.3 1712,2331.4 1714,2331.5 1716,2331.6 1718,2331.7 1720,2331.8 1722,2331.9 1724,2332 1726,2332.1 1728,2332.2 1730,2332.3 1732,2332.4 1734,2332.5 1736,2332.6 1738,2332.7 1740,2332.8 1742,2332.9 1744,2333 1746,2333.1 1748,2333.2 1750,2333.3 1752,2333.3 1754,2333.4 1756,2333.5 1758,2333.6 1760,2333.7 1762,2333.8 1764,2333.9 1766,2334 1768,2334.1 1770,2334.2 1772,2334.3 1774,2334.4 1776,2334.4 1778,2334.5 1780,2334.6 1782,2334.7 1784,2334.8 1786,2334.9 1788,2335 1790,2335.1 1792,2335.2 1794,2335.2 1796,2335.3 1798,2335.4 1800,2335.5 1802,2335.6 1804,2335.7 1806,2335.8 1808,2335.9 1810,2335.9 1812,2336 1814,2336.1 1816,2336.2 1818,2336.3 1820,2336.4 1822,2336.4 1824,2336.5 1826,2336.6 1828,2336.7 1830,2336.8 1832,2336.9 1834,2337 1836,2337 1838,2337.1 1840,2337.2 1842,2337.3 1844,2337.4 1846,2337.5 1848,2337.5 1850,2337.6 1852,2337.7 1854,2337.8 1856,2337.9 1858,2338 1860,2338 1862,2338.1 1864,2338.2 1866,2338.3 1868,2338.4 1870,2338.5 1872,2338.5 1874,2338.6 1876,2338.7 1878,2338.8 1880,2338.9 1882,2338.9 1884,2339 1886,2339.1 1888,2339.2 1890,2339.3 1892,2339.4 1894,2339.4 1896,2339.5 1898,2339.6 1900,2339.7 1902,2339.8 1904,2339.8 1906,2339.9 1908,2340 1910,2340.1 1912,2340.2 1914,2340.3 1916,2340.3 1918,2340.4 1920,2340.5 1922,2340.6 1924,2340.7 1926,2340.8 1928,2340.8 1930,2340.9 1932,2341 1934,2341.1 1936,2341.2 1938,2341.2" stroke="#808080" stroke-width="9" fill="none" stroke-dasharray="0 0 15.8 27 16 27 16 26.3 16 26 16 25.2 16 28.8 16 26 16 27.3 16 23.8 16 30.1 16 27.5 16 26 16 27.4 16 25.1 16 27.1 16 27 16 27 16 25 16 26.5 16 26.5 16 27.3 16 27.5 16 26.9 16 26.9 16 26.4 16 28.5 16 26.6 16 27 16 25.4 16 29.5 16 24.9 16 26.6 16 28.4 16 26.2 16 8.1 16 28.2 16 26.1 16 28.1 16 26.1 16 26.1 16 28.1 16 26 16 26 16 28 16 26 16 26 16 5000"/>
<rect x="811.9" y="2159.6" width="16" height="16" fill="#000"/>
<rect x="964.5" y="2221.3" width="16" height="16" fill="#000"/>
<rect x="1162.6" y="2252.5" width="16" height="16" fill="#000"/>
<rect x="1360" y="2297" width="16" height="16" fill="#000"/>
<circle cx="799.4" cy="2165.5" r="8.6" fill="#000"/>
<circle cx="988.7" cy="2256.7" r="8.6" fill="#000"/>
<circle cx="1073.5" cy="2266.8" r="8.6" fill="#000"/>
<circle cx="1391.3" cy="2315.8" r="8.6" fill="#000"/>
<path d="M181.2,1733.6 V2911.1" stroke="#000" stroke-width="5.4"/>
<path d="M156.2,1736.3 H181.2" stroke="#000" stroke-width="5.4"/>
<text x="59.1" y="1752" font-size="54" fill="#000">100</text>
<path d="M156.2,1853.5 H181.2" stroke="#000" stroke-width="5.4"/>
<text x="83.9" y="1869.2" font-size="54" fill="#000">95</text>
<path d="M156.2,1970.7 H181.2" stroke="#000" stroke-width="5.4"/>
<text x="83.8" y="1986.4" font-size="54" fill="#000">90</text>
<path d="M156.2,2087.9 H181.2" stroke="#000" stroke-width="5.4"/>
<text x="83.9" y="2103.6" font-size="54" fill="#000">85</text>
<path d="M156.2,2205.1 H181.2" stroke="#000" stroke-width="5.4"/>
<text x="83.8" y="2220.8" font-size="54" fill="#000">80</text>
<path d="M156.2,2322.3 H181.2" stroke="#000" stroke-width="5.4"/>
<text x="83.9" y="2338" font-size="54" fill="#000">75</text>
<path d="M156.2,2439.6 H181.2" stroke="#000" stroke-width="5.4"/>
<text x="83.8" y="2455.2" font-size="54" fill="#000">70</text>
<path d="M156.2,2556.8 H181.2" stroke="#000" stroke-width="5.4"/>
<text x="83.9" y="2572.4" font-size="54" fill="#000">65</text>
<path d="M156.2,2674 H181.2" stroke="#000" stroke-width="5.4"/>
<text x="83.8" y="2689.6" font-size="54" fill="#000">60</text>
<path d="M156.2,2791.2 H181.2" stroke="#000" stroke-width="5.4"/>
<text x="83.9" y="2806.8" font-size="54" fill="#000">55</text>
<path d="M156.2,2908.4 H181.2" stroke="#000" stroke-width="5.4"/>
<text x="83.8" y="2924.1" font-size="54" fill="#000">50</text>
<path d="M1940.4,1733.6 V2911.1" stroke="#0000a8" stroke-width="5.4"/>
<path d="M1940.4,1736.3 H1965.4" stroke="#0000a8" stroke-width="5.4"/>
<text x="1982" y="1751.7" font-size="54" fill="#0000a8">2.0</text>
<path d="M1940.4,1908.7 H1965.4" stroke="#0000a8" stroke-width="5.4"/>
<text x="1982.8" y="1924.1" font-size="54" fill="#0000a8">1.5</text>
<path d="M1940.4,2081 H1965.4" stroke="#0000a8" stroke-width="5.4"/>
<text x="1982.8" y="2096.5" font-size="54" fill="#0000a8">1.0</text>
<path d="M1940.4,2253.4 H1965.4" stroke="#0000a8" stroke-width="5.4"/>
<text x="1982.3" y="2268.8" font-size="54" fill="#0000a8">0.5</text>
<path d="M1940.4,2425.8 H1965.4" stroke="#0000a8" stroke-width="5.4"/>
<text x="1982.3" y="2441.2" font-size="54" fill="#0000a8">0.0</text>
<path d="M1940.4,2598.1 H1965.4" stroke="#0000a8" stroke-width="5.4"/>
<text x="1981.7" y="2613.6" font-size="54" fill="#0000a8">−0.5</text>
<path d="M1940.4,2770.5 H1965.4" stroke="#0000a8" stroke-width="5.4"/>
<text x="1981.7" y="2785.9" font-size="54" fill="#0000a8">−1.0</text>
<path d="M156.2,2908.4 H1937.7" stroke="#000" stroke-width="5.4"/>
<path d="M308.2,2908.4 V2920.9" stroke="#000" stroke-width="5.4"/>
<path d="M489.5,2908.4 V2933.4" stroke="#000" stroke-width="5.4"/>
<path d="M670.9,2908.4 V2920.9" stroke="#000" stroke-width="5.4"/>
<path d="M852.2,2908.4 V2933.4" stroke="#000" stroke-width="5.4"/>
<path d="M1033.6,2908.4 V2920.9" stroke="#000" stroke-width="5.4"/>
<path d="M1215,2908.4 V2933.4" stroke="#000" stroke-width="5.4"/>
<path d="M1396.3,2908.4 V2920.9" stroke="#000" stroke-width="5.4"/>
<path d="M1577.7,2908.4 V2933.4" stroke="#000" stroke-width="5.4"/>
<path d="M1759,2908.4 V2920.9" stroke="#000" stroke-width="5.4"/>
<path d="M1940.4,2908.4 V2933.4" stroke="#000" stroke-width="5.4"/>
<path d="M181.2,2908.4 V2933.4" stroke="#000" stroke-width="5.4"/>
<text x="154" y="2990.9" font-size="54" fill="#000">30</text>
<text x="448.9" y="2990.9" font-size="54" fill="#000">200</text>
<text x="812.2" y="2990.9" font-size="54" fill="#000">400</text>
<text x="1174.3" y="2990.9" font-size="54" fill="#000">600</text>
<text x="1537.2" y="2990.9" font-size="54" fill="#000">800</text>
<text x="1885.1" y="2990.9" font-size="54" fill="#000">1000</text>
<text x="51.9" y="1697.5" font-size="66.5" fill="#000">TG/(%)</text>
<text x="1723.1" y="1694.6" font-size="66.5" fill="#0000a8">DTG/(%/min)</text>
<text x="910.5" y="3094.9" font-size="66.5" fill="#000">Temp. (°C)</text>
<text x="1037.1" y="3188.6" font-size="66.5" fill="#000">(<tspan font-weight="bold">d</tspan>)</text>
<text x="737.8" y="2133.9" font-size="54" fill="#000">81.60</text>
<text x="650.8" y="2216.7" font-size="54" fill="#000">81.69</text>
<text x="911.6" y="2199.4" font-size="54" fill="#000">78.97</text>
<text x="1130.5" y="2222.1" font-size="54" fill="#000">77.64</text>
<text x="840.6" y="2313.9" font-size="54" fill="#000">77.80</text>
<text x="996.4" y="2337.7" font-size="54" fill="#000">77.37</text>
<text x="1344.8" y="2272.7" font-size="54" fill="#000">75.74</text>
<text x="1395.3" y="2389.1" font-size="54" fill="#000">75.28</text>
<text x="806" y="2677.9" font-size="48.5" fill="#000">Ca(OH)<tspan font-size="33.5" dy="13.1">2</tspan></text>
<text x="1194.6" y="2573.6" font-size="48.5" fill="#000">CaCO<tspan font-size="33.5" dy="13.1">3</tspan></text>
<path d="M1664,1766.1 H1787" stroke="#000" stroke-width="6.4"/>
<path d="M1664,1833.7 H1787" stroke="#808080" stroke-width="9" stroke-dasharray="16 27.4"/>
<path d="M1664,1900.6 H1787" stroke="#0000a8" stroke-width="5.6"/>
<path d="M1664.5,1967.5 H1779" stroke="#7b8cff" stroke-width="10.4" stroke-linecap="round" stroke-dasharray="0 18.75" stroke-opacity="0.6"/>
<text x="1800.3" y="1783.4" font-size="54" fill="#000">0-90</text>
<text x="1799.8" y="1851" font-size="54" fill="#000">35-90</text>
<text x="1800.3" y="1917.9" font-size="54" fill="#000">0-90</text>
<text x="1799.8" y="1984.8" font-size="54" fill="#000">35-90</text>
</svg>
</body></html>
